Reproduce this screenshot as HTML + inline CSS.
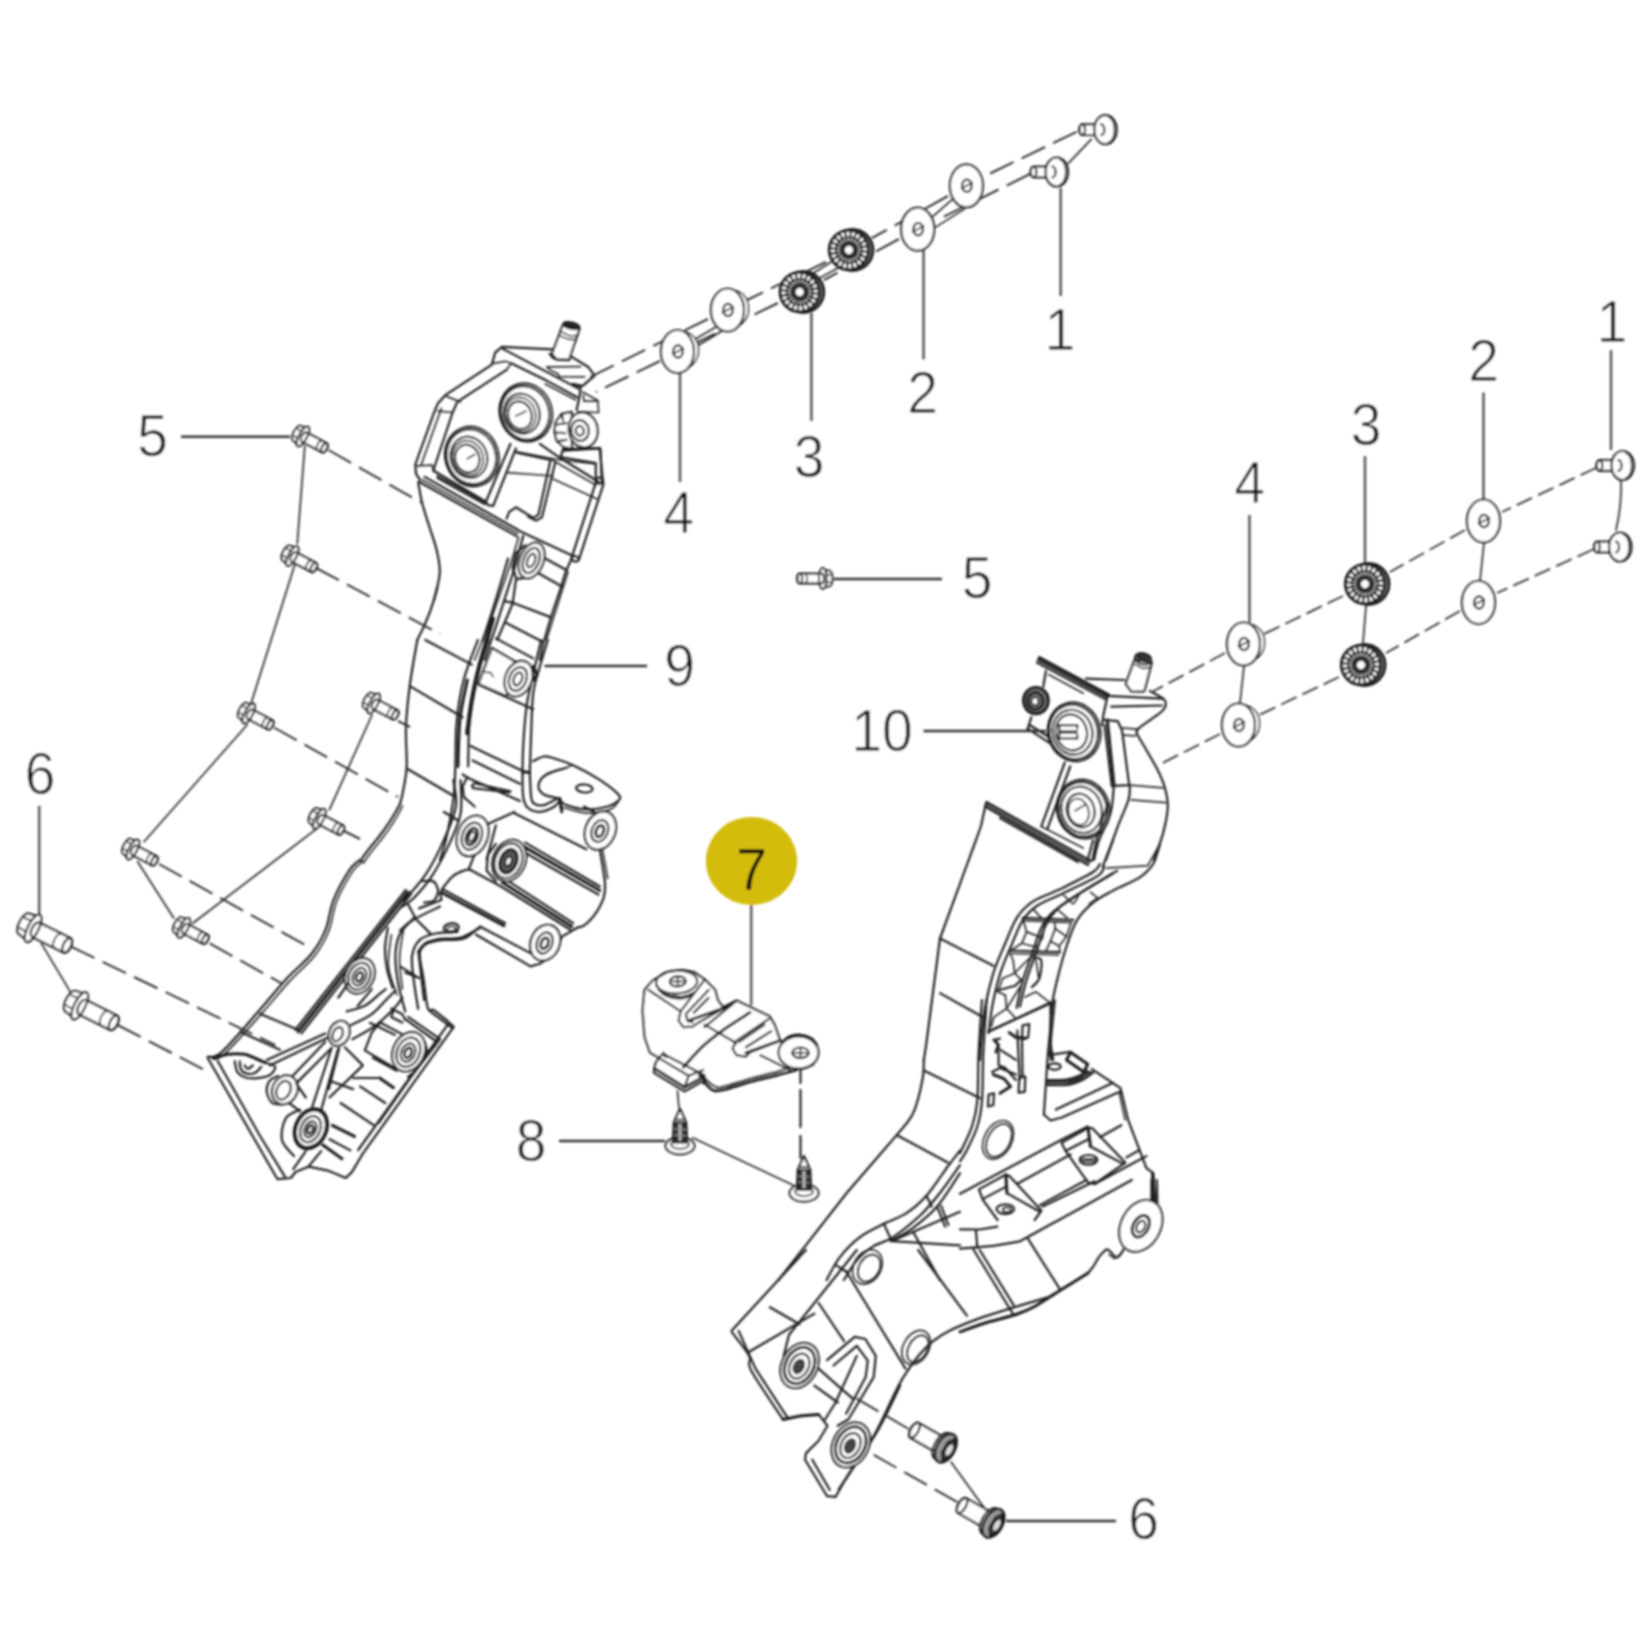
<!DOCTYPE html>
<html><head><meta charset="utf-8"><title>Parts diagram</title>
<style>
html,body{margin:0;padding:0;background:#fff;}
body{width:1652px;height:1652px;overflow:hidden;font-family:"Liberation Sans",sans-serif;}
svg{display:block;}
.l{fill:none;stroke:#202020;stroke-width:2.2;stroke-linecap:round;stroke-linejoin:round;}
.t{fill:none;stroke:#2c2c2c;stroke-width:1.7;stroke-linecap:round;stroke-linejoin:round;}
.h{fill:none;stroke:#1a1a1a;stroke-width:3;stroke-linecap:round;stroke-linejoin:round;}
.w{fill:#fff;stroke:#202020;stroke-width:2.2;stroke-linejoin:round;}
.ld{fill:none;stroke:#5a5a5a;stroke-width:2.6;}
.lh{fill:none;stroke:#333;stroke-width:2.4;}
.d{fill:none;stroke:#333;stroke-width:2;stroke-dasharray:26 9;}
.d2{fill:none;stroke:#3a3a3a;stroke-width:1.9;stroke-dasharray:17 6.5;}
text{font-family:"Liberation Sans",sans-serif;fill:#0c0c0c;stroke:#fff;stroke-width:0.9px;}
text.y{stroke:#d4bc08;stroke-width:0.3px;}
</style></head><body>
<svg width="1652" height="1652" viewBox="0 0 1652 1652">
<defs><filter id="b" x="-2%" y="-2%" width="104%" height="104%"><feGaussianBlur stdDeviation="0.9"/></filter></defs>
<rect width="1652" height="1652" fill="#fff"/>
<g filter="url(#b)">
<path class="w" d="M562.6 325.3 L552.0 353.9 L556.6 359.3 L569.3 359.9 L570.0 356.6 L579.6 328.6Z"/>
<ellipse class="l" cx="571.3" cy="325.6" rx="8.3" ry="3.2" transform="rotate(12.0 571.3 325.6)"/>
<g><ellipse fill="#222" stroke="#222" cx="571.3" cy="325.2" rx="7.0" ry="2.3" transform="rotate(12.0 571.3 325.2)"/></g>
<path class="t" d="M561.3 332.0 L570.0 336.0 L577.9 335.3"/>
<path class="t" d="M560.0 336.0 L568.6 339.3 L576.6 339.3"/>
<path class="l" d="M549.6 353.6 L552.6 357.6 L558.0 359.6 L569.3 360.1"/>
<path class="l" d="M552.5 349.4 L501.9 346.8 L495.2 352.6 L491.9 364.6 L445.3 395.2 L438.0 403.2 L434.6 411.2 L415.3 464.5 L416.0 473.8 L420.0 479.8"/>
<path class="l" d="M571.3 356.6 L588.6 367.3 L594.6 375.6 L582.6 385.9 L572.6 384.2"/>
<path class="t" d="M547.0 366.9 L580.6 366.6"/>
<path class="t" d="M547.0 366.9 L550.0 369.9 L558.0 373.9 L559.3 376.6 L584.6 376.9"/>
<path class="l" d="M502.5 348.6 L578.5 388.6"/>
<path class="l" d="M511.2 363.3 L546.5 380.6 L577.1 397.2"/>
<path class="t" d="M545.2 383.9 L575.8 399.9"/>
<path class="l" d="M572.6 383.9 L580.6 386.6 L579.6 396.6 L576.6 409.9"/>
<path class="t" d="M582.6 391.9 L597.9 400.6 L598.6 412.5 L577.9 411.9"/>
<path class="t" d="M583.3 395.2 L583.9 401.2 L596.6 401.2"/>
<path class="l" d="M506.5 369.9 L457.3 401.9 L452.6 412.5 L433.3 470.5"/>
<path class="t" d="M493.2 363.3 L505.2 361.3 L511.2 363.3 L506.5 369.9"/>
<path class="t" d="M445.3 395.9 L460.6 401.9"/>
<path class="t" d="M438.0 411.2 L452.6 412.5"/>
<path class="t" d="M416.6 465.8 L432.0 465.1 L434.0 471.8"/>
<path class="t" d="M441.3 408.5 L421.3 464.5"/>
<path class="l" d="M424.6 476.9 L518.6 530.3"/>
<path class="l" d="M419.9 482.2 L516.9 536.4"/>
<path class="t" d="M422.2 479.7 L517.8 533.4"/>
<path class="l" d="M437.3 476.1 L486.4 503.2"/>
<path class="t" d="M437.3 478.2 L484.7 504.5"/>
<path class="l" d="M418.2 482.2 C418.9 485.6 420.1 494.8 422.0 502.4 C423.9 510.0 427.3 520.0 429.7 527.8 C432.1 535.6 434.7 541.9 436.4 549.0 C438.1 556.0 439.7 563.8 439.8 570.2 C440.0 576.5 438.3 582.1 437.3 587.1 C436.3 592.1 434.5 597.9 433.9 600.0"/>
<ellipse class="w" cx="525.8" cy="412.5" rx="26.0" ry="29.3" transform="rotate(-18.0 525.8 412.5)"/>
<ellipse class="l" cx="525.2" cy="412.8" rx="23.7" ry="27.0" transform="rotate(-18.0 525.2 412.8)"/>
<ellipse class="l" cx="521.9" cy="413.6" rx="17.6" ry="20.2" transform="rotate(-18.0 521.9 413.6)"/>
<ellipse class="t" cx="520.5" cy="414.5" rx="14.9" ry="17.3" transform="rotate(-18.0 520.5 414.5)"/>
<ellipse class="l" cx="519.9" cy="415.2" rx="11.7" ry="14.0" transform="rotate(-18.0 519.9 415.2)"/>
<path class="t" d="M515.9 416.1 L525.8 411.2"/>
<ellipse class="w" cx="471.9" cy="456.5" rx="26.6" ry="30.0" transform="rotate(-18.0 471.9 456.5)"/>
<ellipse class="l" cx="471.4" cy="456.8" rx="24.4" ry="27.6" transform="rotate(-18.0 471.4 456.8)"/>
<ellipse class="l" cx="469.0" cy="457.3" rx="18.1" ry="20.8" transform="rotate(-18.0 469.0 457.3)"/>
<ellipse class="t" cx="467.9" cy="458.1" rx="15.2" ry="17.6" transform="rotate(-18.0 467.9 458.1)"/>
<ellipse class="l" cx="467.3" cy="458.6" rx="12.0" ry="14.1" transform="rotate(-18.0 467.3 458.6)"/>
<path class="t" d="M467.3 458.8 L474.8 454.5"/>
<path class="l" d="M510.5 443.8 L485.9 501.8 L487.9 505.1 L493.2 505.8"/>
<path class="l" d="M515.9 448.5 L493.2 505.8"/>
<path class="l" d="M433.3 470.5 L485.9 501.8"/>
<path class="w" d="M571.8 411.9 L561.8 413.9 L555.8 421.9 L554.5 431.2 L556.5 440.5 L563.8 447.2 L571.8 448.5Z"/>
<path class="l" d="M561.8 413.9 L563.1 420.5 M557.1 424.5 L566.5 423.2 M555.1 432.5 L565.1 433.2 M557.8 441.2 L566.5 439.8"/>
<ellipse class="w" cx="583.1" cy="429.9" rx="14.4" ry="17.6" transform="rotate(-10.0 583.1 429.9)"/>
<ellipse class="l" cx="580.0" cy="430.5" rx="8.8" ry="10.4" transform="rotate(-10.0 580.0 430.5)"/>
<ellipse class="l" cx="579.8" cy="430.8" rx="4.0" ry="4.8" transform="rotate(-10.0 579.8 430.8)"/>
<path class="l" d="M563.1 449.2 L599.8 448.2"/>
<path class="l" d="M563.1 449.2 L560.5 457.2 L595.8 463.1 L595.8 481.8"/>
<path class="l" d="M600.4 448.5 L601.8 481.8"/>
<path class="l" d="M539.8 443.8 L559.8 457.8 L598.4 481.8"/>
<path class="t" d="M551.8 459.8 L595.8 485.1"/>
<path class="t" d="M553.1 479.1 L597.1 499.1"/>
<path class="l" d="M516.6 452.7 L550.5 460.0 L538.5 514.6 L533.2 517.9 L515.9 507.3 L509.2 511.9 L506.6 518.6"/>
<path class="l" d="M555.2 462.6 L541.9 517.2 L535.9 520.6 L527.9 516.6"/>
<path class="t" d="M507.9 472.6 L553.2 476.0"/>
<path class="t" d="M514.6 451.3 L559.9 460.0 L595.8 464.0 L595.8 478.6"/>
<path class="l" d="M563.8 450.7 L599.8 448.3 L603.1 483.9"/>
<path class="l" d="M595.8 482.6 L571.8 557.2"/>
<path class="l" d="M603.5 484.2 L578.8 559.9"/>
<ellipse class="l" cx="599.4" cy="480.6" rx="4.0" ry="2.9" transform="rotate(15.0 599.4 480.6)"/>
<ellipse class="l" cx="575.2" cy="558.8" rx="3.7" ry="2.7" transform="rotate(15.0 575.2 558.8)"/>
<path class="l" d="M519.9 531.2 L573.2 556.1"/>
<ellipse class="w" cx="531.6" cy="560.5" rx="11.7" ry="18.6" transform="rotate(22.0 531.6 560.5)"/>
<ellipse class="l" cx="531.2" cy="560.5" rx="7.7" ry="13.1" transform="rotate(22.0 531.2 560.5)"/>
<ellipse class="l" cx="531.2" cy="560.5" rx="3.7" ry="6.9" transform="rotate(22.0 531.2 560.5)"/>
<path class="l" d="M525.2 545.2 L515.9 553.2 L512.6 567.8 L516.6 579.2 L525.2 577.8"/>
<path class="l" d="M545.2 558.5 L565.8 569.8"/>
<path class="l" d="M538.5 573.2 L561.9 586.5"/>
<path class="l" d="M503.9 601.1 L512.6 602.7 L551.2 617.4"/>
<path class="l" d="M505.3 622.4 L541.9 641.4"/>
<path class="l" d="M495.9 638.4 L533.2 658.4"/>
<path class="t" d="M518.6 537.2 L511.9 559.9 L493.3 613.1 L474.6 660.0"/>
<path class="l" d="M523.2 535.9 L514.6 567.8 L495.9 626.4 L484.6 660.0"/>
<path class="l" d="M515.9 579.8 L512.6 603.8 L497.3 639.8"/>
<path class="l" d="M571.8 557.9 L565.2 573.2 L559.9 590.5 L550.5 618.5 L542.5 646.4 L539.9 660.0"/>
<path class="t" d="M568.1 571.8 L546.5 639.8"/>
<path class="l" d="M437.3 587 Q432 612 417.3 640"/>
<path class="l" d="M417.3 640.0 C416.1 647.3 411.9 669.5 410.0 683.9 C408.1 698.4 406.5 712.8 406.0 726.6 C405.4 740.3 407.2 755.4 406.7 766.5 C406.1 777.6 403.8 786.9 402.7 793.1 C401.6 799.4 400.4 802.0 400.0 803.8"/>
<path class="l" d="M425.3 640.0 L471.9 664.6"/>
<path class="l" d="M410.7 686.6 L462.6 717.2"/>
<path class="l" d="M408.0 769.2 L453.3 795.8"/>
<path class="h" d="M467.3 680.0 C466.0 686.6 461.5 705.5 459.9 719.9 C458.4 734.3 458.3 758.7 457.9 766.5"/>
<path class="l" d="M488.6 640.0 C486.3 646.7 478.4 666.6 475.2 680.0 C472.1 693.3 470.7 705.5 469.5 719.9 C468.3 734.3 468.4 758.7 468.2 766.5"/>
<path class="l" d="M477.9 640.0 C475.5 646.7 467.2 666.2 463.7 680.0 C460.1 693.7 458.0 707.9 456.6 722.6 C455.2 737.2 455.8 755.0 455.3 767.8 C454.7 780.7 454.8 787.8 453.3 799.8 C451.7 811.8 448.2 829.7 445.9 839.8 C443.7 849.8 441.0 856.6 440.0 860.0"/>
<path class="l" d="M547.8 640.0 C546.5 644.4 542.3 657.8 539.8 666.6 C537.4 675.5 534.6 682.2 533.2 693.3 C531.7 704.4 531.7 720.1 531.2 733.2 C530.6 746.3 530.1 765.4 529.8 771.8"/>
<path class="l" d="M541.2 640.0 C539.6 646.7 534.3 668.9 531.8 680.0 C529.4 691.0 528.0 695.5 526.5 706.6 C525.1 717.7 523.8 735.4 523.2 746.5 C522.5 757.6 522.6 768.7 522.5 773.2"/>
<path class="h" d="M523.2 771.8 L529.8 772.5"/>
<path class="l" d="M522.5 773.2 C522.6 777.2 522.3 791.4 523.2 797.1 C524.1 802.9 525.1 805.4 527.8 807.8 C530.6 810.2 535.4 812.0 539.8 811.8 C544.3 811.6 551.2 808.5 554.5 806.5 C557.8 804.5 558.9 800.9 559.8 799.8"/>
<path class="l" d="M529.8 773.2 C530.1 777.2 530.4 792.0 531.2 797.1 C532.0 802.2 532.4 802.5 534.5 803.8 C536.6 805.1 540.1 806.0 543.8 805.1 C547.6 804.2 554.9 799.6 557.1 798.5"/>
<path class="w" d="M515.9 662.0 L491.9 648.0 L478.6 683.9 L506.5 695.9Z"/>
<ellipse class="w" cx="518.5" cy="678.6" rx="13.3" ry="18.4" transform="rotate(22.0 518.5 678.6)"/>
<ellipse class="l" cx="517.9" cy="678.9" rx="8.5" ry="12.3" transform="rotate(22.0 517.9 678.9)"/>
<ellipse class="l" cx="517.9" cy="678.9" rx="4.0" ry="6.7" transform="rotate(22.0 517.9 678.9)"/>
<path class="t" d="M482.6 672.0 L490.6 672.6 L493.2 676.6"/>
<path class="l" d="M478.6 684.6 L533.2 709.2"/>
<path class="h" d="M533.2 666.6 L537.2 674.6 L533.2 680.0"/>
<path class="l" d="M470.6 745.9 L523.2 771.2"/>
<path class="l" d="M472.6 760.5 L519.9 783.8"/>
<path class="l" d="M510.5 791.2 L474.6 783.2 L471.9 785.8 L473.2 788.1 L509.2 792.5Z"/>
<path class="l" d="M462.6 774.5 L469.2 778.5 L519.9 801.1"/>
<path class="l" d="M466.6 778.5 L462.6 786.5 L463.9 797.1 L474.6 806.5"/>
<path class="l" d="M533.2 761.2 C534.9 760.4 540.3 757.0 543.8 756.5 C547.4 756.1 549.6 757.1 554.5 758.5 C559.4 760.0 565.6 761.6 573.1 765.2 C580.7 768.7 592.2 774.9 599.8 779.8 C607.3 784.7 615.3 791.0 618.4 794.5 C621.5 797.9 620.2 798.5 618.4 800.5 C616.6 802.5 613.1 805.0 607.7 806.5 C602.4 808.0 593.3 809.6 586.4 809.4 C579.6 809.2 570.9 806.7 566.5 805.1 C562.0 803.5 560.9 800.7 559.8 799.8"/>
<path class="t" d="M559.8 806.5 C564.2 807.6 578.0 812.6 586.4 813.1 C594.9 813.6 605.0 811.5 610.4 809.4 C615.8 807.3 617.6 802.0 619.1 800.5"/>
<path class="l" d="M566.5 767.8 C563.1 769.0 551.2 771.6 546.5 774.5 C541.8 777.4 538.9 781.8 538.5 785.2 C538.1 788.5 540.3 792.3 543.8 794.5 C547.4 796.7 557.1 797.8 559.8 798.5"/>
<path class="t" d="M566.5 767.8 L571.8 765.2"/>
<ellipse class="l" cx="584.4" cy="788.5" rx="8.3" ry="4.0" transform="rotate(5.0 584.4 788.5)"/>
<path class="h" d="M559.8 798.5 L561.8 811.8"/>
<g><path fill="none" stroke="#1a1a1a" stroke-width="4.2" stroke-linecap="round" d="M492.9 618.6 C491.9 622.3 488.8 633.2 486.5 641.2 C484.3 649.2 481.7 656.7 479.2 666.5 C476.8 676.3 473.9 688.7 471.9 699.8 C469.9 710.9 468.0 727.6 467.2 733.1"/></g>
<path class="l" d="M508.1 558.6 C505.8 566.2 498.8 590.2 494.5 603.9 C490.3 617.7 484.5 635.0 482.5 641.2"/>
<path class="l" d="M457.3 820.0 L443.9 812.0"/>
<ellipse class="w" cx="472.6" cy="835.9" rx="14.9" ry="21.0" transform="rotate(22.0 472.6 835.9)"/>
<ellipse class="l" cx="471.9" cy="836.2" rx="9.6" ry="14.0" transform="rotate(22.0 471.9 836.2)"/>
<ellipse class="h" cx="471.9" cy="836.5" rx="5.3" ry="8.8" transform="rotate(22.0 471.9 836.5)"/>
<ellipse class="l" cx="471.9" cy="836.5" rx="2.7" ry="5.1" transform="rotate(22.0 471.9 836.5)"/>
<path class="l" d="M487.9 823.9 L514.5 812.0"/>
<path class="l" d="M474.6 854.6 L469.2 867.9"/>
<path class="l" d="M495.9 825.3 L486.6 859.9"/>
<path class="l" d="M514.5 813.3 L586.4 849.2"/>
<path class="l" d="M594.4 812.0 L583.8 806.6"/>
<ellipse class="w" cx="600.4" cy="830.6" rx="14.9" ry="19.7" transform="rotate(22.0 600.4 830.6)"/>
<ellipse class="l" cx="599.8" cy="830.9" rx="8.0" ry="11.2" transform="rotate(22.0 599.8 830.9)"/>
<ellipse class="h" cx="599.8" cy="831.1" rx="3.7" ry="5.9" transform="rotate(22.0 599.8 831.1)"/>
<path class="h" d="M523.8 846.6 L599.8 890.5"/>
<path class="l" d="M525.2 842.6 L599.8 886.5"/>
<path class="l" d="M522.5 851.2 L598.4 894.5"/>
<path class="h" d="M502.5 882.5 L571.8 926.5"/>
<path class="l" d="M505.2 879.2 L573.1 923.2"/>
<path class="l" d="M469.2 869.2 L501.2 886.5 L570.5 929.8"/>
<path class="l" d="M599.8 849.2 C600.6 855.5 605.1 877.0 605.1 886.5 C605.1 896.1 602.9 900.3 599.8 906.5 C596.7 912.7 590.2 920.3 586.4 923.8 C582.7 927.4 578.7 927.2 577.1 927.8"/>
<path class="t" d="M602.4 849.2 L607.7 878.5"/>
<ellipse class="w" cx="509.2" cy="860.6" rx="16.2" ry="21.3" transform="rotate(22.0 509.2 860.6)"/>
<ellipse class="l" cx="508.5" cy="860.8" rx="13.3" ry="18.0" transform="rotate(22.0 508.5 860.8)"/>
<g><ellipse fill="#555" stroke="#1a1a1a" stroke-width="3" cx="508.5" cy="861.2" rx="8.3" ry="12.3" transform="rotate(22.0 508.5 861.2)"/></g>
<ellipse class="w" cx="508.5" cy="861.2" rx="2.9" ry="4.8" transform="rotate(22.0 508.5 861.2)"/>
<path class="l" d="M495.9 843.9 L487.9 854.6 L486.6 870.6 L495.9 881.2"/>
<path class="l" d="M443.9 886.5 C445.5 884.8 449.9 878.5 453.3 875.9 C456.6 873.2 461.1 871.6 463.9 870.6 C466.7 869.5 468.9 869.7 469.9 869.5"/>
<path class="l" d="M443.9 886.5 L440.0 893.2 L441.3 898.5"/>
<path class="h" d="M441.3 892.5 L503.9 925.8"/>
<path class="l" d="M442.6 889.2 L505.2 923.2"/>
<path class="l" d="M479.9 926.5 L530.5 953.1"/>
<path class="l" d="M475.9 934.5 L530.5 966.4 L539.8 963.8 L557.1 951.1 L561.4 937.1"/>
<ellipse class="w" cx="545.2" cy="942.7" rx="14.4" ry="18.4" transform="rotate(22.0 545.2 942.7)"/>
<ellipse class="l" cx="544.6" cy="943.0" rx="7.7" ry="10.9" transform="rotate(22.0 544.6 943.0)"/>
<ellipse class="h" cx="544.6" cy="943.3" rx="3.5" ry="5.6" transform="rotate(22.0 544.6 943.3)"/>
<path class="l" d="M561.1 937.1 L577.1 927.8"/>
<path class="l" d="M453.3 780.0 C453.7 784.4 457.5 796.6 455.9 806.6 C454.4 816.6 448.8 828.8 443.9 839.9 C439.1 851.0 432.6 863.9 426.6 873.2 C420.6 882.5 412.4 891.0 408.0 895.9 C403.6 900.7 401.3 901.4 400.0 902.5"/>
<path class="l" d="M460.6 780.0 C460.6 785.5 462.4 802.9 460.6 813.3 C458.8 823.7 454.7 832.2 449.9 842.6 C445.2 853.0 438.1 866.6 432.0 875.9 C425.9 885.2 418.6 893.2 413.3 898.5 C408.0 903.8 402.2 906.3 400.0 907.8"/>
<path class="l" d="M422.6 881.2 C424.4 881.2 430.7 879.7 433.3 881.2 C435.8 882.8 437.8 887.3 438.0 890.5 C438.1 893.8 436.3 898.5 434.0 900.5 C431.6 902.5 425.6 902.2 424.0 902.5"/>
<ellipse class="l" cx="451.3" cy="927.8" rx="7.5" ry="4.5" transform="rotate(-8.0 451.3 927.8)"/>
<ellipse class="t" cx="451.3" cy="928.9" rx="4.5" ry="2.4" transform="rotate(-8.0 451.3 928.9)"/>
<path class="l" d="M400.0 930.5 C402.2 928.7 406.7 923.8 413.3 919.8 C420.0 915.8 435.5 908.7 440.0 906.5"/>
<path class="l" d="M443.9 939.8 C447.3 939.6 458.2 940.5 463.9 938.5 C469.7 936.5 476.1 929.6 478.6 927.8"/>
<path class="h" d="M418.6 951.8 C420.0 950.3 422.2 945.2 426.6 943.1 C431.1 941.0 442.2 939.8 445.3 939.1"/>
<path class="l" d="M418.6 953.1 L424.0 1000.0"/>
<path class="l" d="M400.0 966.4 L417.3 977.1"/>
<path class="l" d="M400 804 Q392 820 378 838 Q366 852 360.5 861"/>
<path class="t" d="M402.5 806 Q395 822 381 840 Q369 854 363.5 863"/>
<path class="l" d="M359.8 860.0 C358.1 861.6 354.0 863.2 349.6 869.8 C345.3 876.4 337.6 889.8 333.6 899.8 C329.6 909.7 329.3 920.7 325.6 929.7 C322.0 938.7 318.3 945.4 311.7 953.7 C305.0 962.0 294.4 970.3 285.7 979.7 C277.0 989.0 270.3 998.0 259.7 1010.0 C249.1 1022.0 230.6 1044.0 222.0 1051.8 C213.4 1059.6 210.3 1055.9 208.0 1056.8"/>
<path class="t" d="M362.8 861.6 C361.1 863.2 357.0 864.8 352.6 871.4 C348.3 878.0 340.6 891.4 336.6 901.3 C332.6 911.3 332.3 922.3 328.6 931.3 C325.0 940.4 321.3 947.2 314.7 955.7 C308.0 964.1 297.3 972.6 288.7 982.1 C280.0 991.5 273.4 1000.4 262.7 1012.4 C252.0 1024.4 232.8 1046.5 224.4 1054.2 C215.9 1061.8 214.0 1057.5 212.0 1058.2"/>
<path class="l" d="M207.6 1057.8 L277.5 1179.2 L290.9 1178.0 L295.5 1172.0 L308.9 1166.6 L327.8 1170.6 L345.8 1178.0 L352.2 1171.6 L362.8 1153.6 L453.7 1026.8 L446.1 1019.8"/>
<path class="l" d="M217.6 1060.8 L259.9 1135.7 L284.9 1176.6"/>
<path class="l" d="M358.2 1150.0 L448.1 1024.2"/>
<path class="l" d="M446.1 1019.8 C444.0 1018.2 436.8 1012.2 433.7 1010.2 C430.7 1008.2 429.4 1012.9 427.7 1007.8 C426.1 1002.8 425.1 988.8 423.7 979.9 C422.4 970.9 419.4 959.9 419.7 953.9 C420.1 947.9 422.4 946.4 425.7 943.9 C429.1 941.4 434.0 939.9 439.7 938.9 C445.4 937.9 453.0 939.7 459.7 937.9 C466.3 936.1 476.3 929.6 479.7 927.9"/>
<path class="l" d="M418.1 1008.8 C417.4 1004.0 414.7 988.7 413.7 979.9 C412.7 971.0 411.1 962.5 412.1 955.9 C413.1 949.2 415.8 943.6 419.7 939.9 C423.7 936.2 429.4 934.8 435.7 933.5 C442.0 932.2 454.0 932.2 457.7 931.9"/>
<path class="h" d="M408.1 892.0 L298.3 1031.8"/>
<path class="l" d="M411.3 893.6 L301.5 1033.4"/>
<path class="l" d="M405.8 890.0 L295.5 1029.8"/>
<path class="l" d="M259.9 1013.8 L297.9 1029.8"/>
<path class="l" d="M240.0 1031.8 L279.9 1049.8"/>
<ellipse class="w" cx="359.8" cy="975.9" rx="14.0" ry="18.4" transform="rotate(25.0 359.8 975.9)"/>
<ellipse class="l" cx="359.4" cy="976.3" rx="10.4" ry="14.0" transform="rotate(25.0 359.4 976.3)"/>
<ellipse class="l" cx="359.4" cy="976.7" rx="6.4" ry="9.2" transform="rotate(25.0 359.4 976.7)"/>
<ellipse class="h" cx="359.4" cy="976.9" rx="3.0" ry="4.8" transform="rotate(25.0 359.4 976.9)"/>
<path class="l" d="M394.8 1034.8 L369.8 1022.8"/>
<path class="l" d="M396.8 1070.7 L372.8 1057.8"/>
<ellipse class="w" cx="408.7" cy="1051.8" rx="15.6" ry="20.4" transform="rotate(25.0 408.7 1051.8)"/>
<ellipse class="l" cx="408.3" cy="1052.2" rx="11.2" ry="15.2" transform="rotate(25.0 408.3 1052.2)"/>
<ellipse class="l" cx="408.1" cy="1052.6" rx="6.8" ry="9.6" transform="rotate(25.0 408.1 1052.6)"/>
<ellipse class="h" cx="408.1" cy="1052.8" rx="3.2" ry="5.2" transform="rotate(25.0 408.1 1052.8)"/>
<path class="l" d="M299.9 1109.7 C297.5 1111.1 288.9 1113.1 285.9 1118.1 C282.9 1123.1 280.6 1133.3 281.9 1139.7 C283.2 1146.0 291.9 1153.3 293.9 1156.0"/>
<ellipse class="w" cx="310.9" cy="1128.7" rx="16.0" ry="21.2" transform="rotate(25.0 310.9 1128.7)"/>
<g><ellipse class="h" cx="310.9" cy="1128.7" rx="14.4" ry="19.4" transform="rotate(25.0 310.9 1128.7)"/></g>
<ellipse class="l" cx="310.5" cy="1129.1" rx="9.6" ry="13.6" transform="rotate(25.0 310.5 1129.1)"/>
<ellipse class="l" cx="310.3" cy="1129.3" rx="5.6" ry="8.4" transform="rotate(25.0 310.3 1129.3)"/>
<ellipse class="h" cx="310.3" cy="1129.5" rx="2.6" ry="4.4" transform="rotate(25.0 310.3 1129.5)"/>
<path class="h" d="M213.9 1058.5 C216.2 1057.8 222.7 1055.0 227.8 1054.3 C232.9 1053.6 239.9 1053.6 244.6 1054.3 C249.2 1055.0 252.2 1057.1 255.7 1058.5 C259.2 1059.9 263.8 1062.0 265.4 1062.7"/>
<path class="l" d="M266.8 1059.9 L325.3 1033.4"/>
<path class="l" d="M269.6 1065.4 L328.1 1037.6"/>
<path class="l" d="M265.4 1062.7 C267.1 1063.3 274.5 1064.7 275.2 1066.8 C275.9 1068.9 272.4 1073.3 269.6 1075.2 C266.8 1077.0 262.2 1077.5 258.5 1078.0 C254.8 1078.4 250.8 1078.9 247.3 1078.0 C243.9 1077.0 239.7 1075.2 237.6 1072.4 C235.5 1069.6 235.3 1063.1 234.8 1061.3"/>
<path class="l" d="M261.3 1066.8 C260.3 1067.8 258.0 1071.2 255.7 1072.4 C253.4 1073.6 249.8 1074.3 247.3 1073.8 C244.9 1073.3 242.3 1071.7 241.1 1069.6 C239.8 1067.5 239.9 1062.7 239.7 1061.3"/>
<path class="l" d="M252.9 1065.4 C252.1 1066.0 249.4 1068.9 248.0 1068.9 C246.6 1068.9 245.1 1066.0 244.6 1065.4"/>
<ellipse class="w" cx="339.2" cy="1033.4" rx="10.0" ry="12.8" transform="rotate(25.0 339.2 1033.4)"/>
<ellipse class="l" cx="337.6" cy="1034.2" rx="4.7" ry="7.5" transform="rotate(25.0 337.6 1034.2)"/>
<path class="l" d="M278.0 1075.9 C276.6 1076.7 271.5 1078.1 269.6 1080.8 C267.8 1083.4 266.4 1088.2 266.8 1091.9 C267.3 1095.6 269.8 1100.9 272.4 1103.0 C274.9 1105.1 280.5 1104.2 282.1 1104.4"/>
<ellipse class="w" cx="284.9" cy="1089.8" rx="12.3" ry="14.8" transform="rotate(25.0 284.9 1089.8)"/>
<ellipse class="l" cx="283.5" cy="1090.2" rx="6.7" ry="9.7" transform="rotate(25.0 283.5 1090.2)"/>
<path class="l" d="M325.3 1041.8 L292.6 1075.9"/>
<path class="l" d="M331.6 1048.0 L297.5 1082.1"/>
<path class="l" d="M331.6 1048.0 L312.1 1107.2"/>
<path class="l" d="M338.1 1049.0 L321.4 1109.3"/>
<path class="l" d="M339.2 1048.0 L328.8 1089.1"/>
<path class="l" d="M344.8 1047.3 L362.9 1065.4 L329.5 1097.5"/>
<path class="l" d="M329.5 1080.8 L353.1 1089.1"/>
<path class="l" d="M296.1 1083.5 L305.8 1097.5"/>
<path class="l" d="M289.1 1103.0 L300.2 1111.4"/>
<path class="l" d="M293.3 1169.2 L305.8 1151.1"/>
<path class="l" d="M308.6 1166.4 L321.1 1151.1"/>
<path class="h" d="M332.3 1125.3 L354.5 1136.4"/>
<path class="h" d="M322.5 1144.8 L342.0 1158.7"/>
<path class="l" d="M329.5 1139.2 L350.4 1150.4"/>
<path class="l" d="M340.6 1103.0 L374.0 1125.3"/>
<path class="l" d="M360.1 1086.3 L385.2 1103.0"/>
<path class="h" d="M379.6 1078.0 L393.5 1087.7"/>
<path class="l" d="M353.1 1078.0 L379.6 1078.0"/>
<path class="l" d="M413.5 918.1 C411.2 920.9 402.6 928.5 399.6 934.8 C396.6 941.1 395.7 947.6 395.4 955.7 C395.2 963.8 396.6 974.3 398.2 983.5 C399.8 992.8 404.0 1006.7 405.2 1011.4"/>
<path class="t" d="M403.8 927.8 C403.1 932.9 399.8 948.3 399.6 958.5 C399.4 968.7 401.9 984.0 402.4 989.1"/>
<path class="t" d="M391.3 934.8 C390.8 940.1 387.5 956.9 388.5 966.8 C389.4 976.8 395.4 990.0 396.8 994.7"/>
<path class="l" d="M405.2 972.4 L419.1 978.0"/>
<path class="l" d="M387.8 927.8 C387.3 931.3 385.1 941.8 385.0 948.7 C384.9 955.7 385.8 963.1 387.1 969.6 C388.4 976.1 391.7 984.7 392.7 987.7"/>
<path class="l" d="M419.1 908.4 L441.4 900.0"/>
<path class="l" d="M408.0 904.2 L416.3 919.5 L430.2 933.4"/>
<path class="l" d="M346.7 1011.4 C349.7 1010.5 359.5 1008.6 364.8 1005.8 C370.1 1003.0 375.2 997.5 378.7 994.7 C382.2 991.9 384.5 990.0 385.7 989.1"/>
<path class="l" d="M350.9 1025.3 C354.4 1023.4 365.5 1018.8 371.8 1014.2 C378.0 1009.5 384.5 1001.4 388.5 997.5 C392.4 993.5 394.3 991.7 395.4 990.5"/>
<path class="l" d="M352.3 1039.2 C356.2 1036.9 369.0 1030.4 375.9 1025.3 C382.9 1020.2 389.6 1013.2 394.0 1008.6 C398.5 1004.0 401.0 999.3 402.4 997.5"/>
<path class="l" d="M348.1 983.5 L338.4 997.5"/>
<path class="l" d="M371.8 989.1 L357.8 1005.8"/>
<path class="l" d="M430.2 1011.4 L452.5 1028.1"/>
<path class="l" d="M408.0 1016.9 L440.0 1039.2"/>
<path class="l" d="M405.9 1019.7 L437.2 1042.0"/>
<path class="l" d="M391.3 1008.6 L402.4 1014.2 L405.2 1019.7"/>
<path class="l" d="M394.0 1008.6 L391.3 1016.9 L402.4 1022.5"/>
<path class="l" d="M402.4 1034.4 L380.1 1022.5 L371.8 1032.3 L364.8 1050.4 L395.4 1068.5"/>
<path class="l" d="M424.7 1042.0 L427.5 1053.1 L435.8 1044.8"/>
<path class="l" d="M413.5 1072.6 L408.0 1076.8"/>
<path class="l" d="M440.0 1039.2 L412.1 1075.4 L378.7 1122.8"/>
<path class="w" d="M1134.5 660.0 L1125.8 683.9 L1131.2 691.3 L1143.1 691.7 L1144.5 690.6 L1151.8 662.6Z"/>
<ellipse class="l" cx="1143.1" cy="658.9" rx="8.3" ry="5.6" transform="rotate(15.0 1143.1 658.9)"/>
<g><ellipse fill="#333" stroke="#222" cx="1143.1" cy="658.0" rx="6.4" ry="3.7" transform="rotate(15.0 1143.1 658.0)"/></g>
<path class="t" d="M1135.2 664.6 L1143.1 668.6 L1150.5 667.3"/>
<path class="h" d="M1039.3 657.6 L1108.5 694.9"/>
<path class="l" d="M1036.9 662.6 L1104.8 698.9"/>
<path class="l" d="M1037.9 660.0 L1106.7 697.0"/>
<path class="t" d="M1048.6 674.6 L1083.2 693.3"/>
<path class="l" d="M1045.9 670.9 L1043.3 686.6"/>
<g><ellipse fill="#777" stroke="#1a1a1a" stroke-width="3.2" cx="1035.9" cy="700.6" rx="12.3" ry="13.1"/></g>
<ellipse class="h" cx="1035.3" cy="701.0" rx="7.7" ry="8.5"/>
<g><ellipse fill="#fff" stroke="#222" stroke-width="2" cx="1035.0" cy="701.3" rx="3.5" ry="4.0"/></g>
<path class="l" d="M1031.3 717.2 L1027.6 729.2"/>
<path class="l" d="M1027.6 728.6 L1049.9 743.2"/>
<path class="l" d="M1030.0 725.2 L1051.3 738.5"/>
<path class="l" d="M1085.9 678.6 L1124.5 680.0"/>
<path class="l" d="M1107.2 695.9 L1161.8 698.6"/>
<path class="l" d="M1149.8 690.9 C1152.2 692.4 1162.0 697.1 1164.5 699.9 C1166.9 702.8 1165.8 705.5 1164.7 707.9 C1163.6 710.4 1162.1 711.2 1157.8 714.6 C1153.5 717.9 1142.7 724.8 1139.2 727.9 C1135.6 731.0 1136.9 732.3 1136.5 733.2"/>
<path class="l" d="M1111.2 706.6 L1161.8 705.5"/>
<path class="t" d="M1121.8 727.9 L1136.5 729.2"/>
<path class="t" d="M1123.2 735.2 L1135.2 735.9"/>
<path class="l" d="M1136.5 733.2 C1139.8 739.0 1151.8 759.0 1156.5 767.8 C1161.1 776.7 1162.6 780.1 1164.5 786.5 C1166.3 792.9 1168.0 798.7 1167.8 806.5 C1167.6 814.2 1165.5 824.2 1163.1 833.1 C1160.8 842.0 1155.4 855.5 1153.8 860.0"/>
<path class="l" d="M1107.5 695.9 L1103.5 714.6 L1102.1 725.2"/>
<path class="h" d="M1107.2 719.9 L1114.1 785.8"/>
<path class="l" d="M1103.2 719.9 L1117.8 721.2 L1122.1 730.6 L1129.2 785.2 L1113.8 785.8"/>
<path class="l" d="M1104.5 725.2 L1111.9 786.5"/>
<path class="l" d="M1113.8 786.5 C1113.3 790.9 1113.0 804.2 1110.5 813.1 C1108.1 822.0 1102.0 831.9 1099.2 839.8 C1096.4 847.6 1094.8 856.6 1093.9 860.0"/>
<path class="l" d="M1129.8 786.5 C1129.6 788.7 1130.5 793.1 1128.5 799.8 C1126.5 806.5 1121.6 816.4 1117.8 826.4 C1114.1 836.5 1107.9 854.4 1105.9 860.0"/>
<path class="t" d="M1129.8 785.2 L1163.1 787.8"/>
<path class="t" d="M1131.2 799.8 L1165.8 802.7"/>
<ellipse class="w" cx="1074.2" cy="731.9" rx="26.1" ry="29.6" transform="rotate(-15.0 1074.2 731.9)"/>
<ellipse class="l" cx="1073.6" cy="731.9" rx="24.0" ry="27.3" transform="rotate(-15.0 1073.6 731.9)"/>
<ellipse class="l" cx="1072.6" cy="732.2" rx="19.7" ry="22.6" transform="rotate(-15.0 1072.6 732.2)"/>
<ellipse class="l" cx="1071.5" cy="732.4" rx="15.4" ry="18.1" transform="rotate(-15.0 1071.5 732.4)"/>
<path class="l" d="M1059.2 725.2 L1077.2 725.2"/>
<path class="l" d="M1059.2 738.5 L1077.2 738.5"/>
<path class="l" d="M1059.2 725.2 L1059.2 738.5"/>
<path class="h" d="M1059.9 731.9 L1076.6 731.9"/>
<path class="l" d="M1077.2 725.2 L1077.2 728.6"/>
<path class="l" d="M1077.2 735.2 L1077.2 738.5"/>
<ellipse class="w" cx="1083.2" cy="809.1" rx="26.1" ry="29.6" transform="rotate(-15.0 1083.2 809.1)"/>
<ellipse class="l" cx="1082.7" cy="809.3" rx="24.0" ry="27.3" transform="rotate(-15.0 1082.7 809.3)"/>
<ellipse class="l" cx="1081.6" cy="809.8" rx="20.0" ry="23.4" transform="rotate(-15.0 1081.6 809.8)"/>
<ellipse class="l" cx="1080.6" cy="810.5" rx="13.8" ry="17.0" transform="rotate(-15.0 1080.6 810.5)"/>
<ellipse class="t" cx="1078.6" cy="811.8" rx="10.1" ry="13.3" transform="rotate(-15.0 1078.6 811.8)"/>
<path class="t" d="M1075.2 810.7 L1086.2 804.1"/>
<path class="l" d="M1064.8 762.5 L1041.3 826.4"/>
<path class="l" d="M1070.2 766.5 L1047.3 829.1"/>
<path class="l" d="M986.5 802 L1091 861"/>
<path class="l" d="M985 806.5 L1088 865"/>
<path class="t" d="M985.7 804.3 L1089.5 863"/>
<path class="l" d="M1000 818 L1078 862"/>
<path class="t" d="M1041.3 826.4 L1083.2 848.0"/>
<path class="l" d="M1107.2 803.8 L1096.5 839.8 L1092.5 860.0"/>
<path class="l" d="M986 803 L981 826 L976 840"/>
<path class="l" d="M940 938.5 L926 1046 L923.8 1060"/>
<path class="l" d="M976.0 840.0 L940.0 938.5"/>
<path class="l" d="M940.0 938.5 L993.3 965.8"/>
<path class="l" d="M940.0 993.1 L985.3 1018.5"/>
<path class="l" d="M1099.8 864.0 C1098.7 865.3 1099.8 867.7 1093.1 872.0 C1086.5 876.2 1069.8 884.4 1059.9 889.3 C1049.9 894.2 1040.3 896.6 1033.2 901.3 C1026.1 905.9 1022.1 909.7 1017.2 917.2 C1012.4 924.8 1007.9 937.2 1003.9 946.5 C999.9 955.9 996.4 963.2 993.3 973.2 C990.2 983.2 987.3 995.4 985.3 1006.5 C983.3 1017.6 982.2 1030.8 981.3 1039.8 C980.4 1048.7 980.2 1056.6 980.0 1060.0"/>
<path class="l" d="M1104.1 866.6 C1103.0 868.2 1104.3 871.7 1097.4 876.2 C1090.5 880.7 1072.8 888.7 1062.8 893.5 C1052.8 898.4 1044.1 901.1 1037.5 905.5 C1030.8 910.0 1027.3 913.3 1022.8 920.2 C1018.4 927.1 1014.6 937.9 1010.8 946.8 C1007.1 955.7 1003.3 963.5 1000.2 973.4 C997.1 983.4 994.1 996.8 992.2 1006.7 C990.3 1016.7 989.2 1028.7 988.6 1033.1"/>
<path class="l" d="M1160.0 844.0 C1158.8 847.3 1156.4 858.4 1153.1 864.0 C1149.7 869.5 1146.4 872.8 1139.8 877.3 C1133.1 881.7 1120.9 886.4 1113.1 890.6 C1105.4 894.8 1099.1 897.7 1093.1 902.6 C1087.2 907.5 1081.6 912.6 1077.2 919.9 C1072.7 927.2 1069.8 936.5 1066.5 946.5 C1063.2 956.5 1059.6 969.8 1057.2 979.8 C1054.7 989.8 1053.0 996.5 1051.9 1006.5 C1050.8 1016.5 1050.3 1030.8 1050.5 1039.8 C1050.8 1048.7 1052.8 1056.6 1053.2 1060.0"/>
<path class="l" d="M1117.1 870.9 C1110.9 874.6 1089.8 886.9 1079.8 893.3 C1069.8 899.7 1063.0 903.7 1057.2 909.2 C1051.4 914.8 1048.8 919.2 1045.2 926.6 C1041.7 933.9 1039.0 944.3 1035.9 953.2 C1032.8 962.1 1029.2 971.0 1026.6 979.8 C1023.9 988.7 1021.0 1002.0 1019.9 1006.5"/>
<path class="l" d="M1113.1 873.3 C1106.9 877.1 1085.8 889.5 1075.8 895.9 C1065.8 902.4 1059.0 906.6 1053.2 911.9 C1047.4 917.2 1044.8 920.8 1041.2 927.9 C1037.7 935.0 1035.0 945.6 1031.9 954.5 C1028.8 963.4 1025.1 972.3 1022.6 981.2 C1020.0 990.0 1017.6 1003.4 1016.6 1007.8"/>
<path class="l" d="M1022.6 917.9 L1073.2 919.9"/>
<path class="t" d="M1023.9 920.6 L1071.8 922.6"/>
<path class="l" d="M1009.2 950.5 L1059.9 952.1"/>
<path class="t" d="M1010.3 953.5 L1058.5 954.8"/>
<path class="l" d="M997.3 990.5 L1015.2 985.8 L1021.2 979.8"/>
<path class="l" d="M988.6 1031.8 L1050.5 1002.5 L1050.8 1060.0"/>
<path class="t" d="M1026.6 931.9 L1042.5 937.9 L1036.5 947.2 L1021.9 943.2Z"/>
<path class="t" d="M1023.6 921.2 L1026.6 931.9 M1045.2 921.2 L1042.5 937.9 M1037.9 950.3 L1036.5 947.2 M1011.2 950.3 L1021.9 943.2"/>
<path class="t" d="M1055.2 928.6 L1066.5 936.5 L1059.2 945.9 L1050.5 941.2Z"/>
<path class="t" d="M1054.8 921.9 L1055.2 928.6 M1071.2 922.6 L1066.5 936.5 M1059.9 951.6 L1059.2 945.9 M1045.9 951.2 L1050.5 941.2"/>
<path class="t" d="M1033.2 909.2 L1041.2 917.9 M1063.8 895.3 L1073.2 903.9 M1090.5 892.2 L1098.5 898.6 M1057.9 909.9 L1067.2 917.9 M1079.8 893.3 L1074.5 902.6 M1096.5 898.6 L1089.2 903.9"/>
<path class="t" d="M1013.2 960.5 L1014.6 973.2 L1002.6 978.5"/>
<path class="t" d="M1010.3 953.5 L1013.2 960.5 M1033.2 954.5 L1014.6 973.2 M998.6 989.8 L1002.6 978.5 M1014.6 973.2 L1021.2 979.8"/>
<path class="l" d="M1033.2 957.2 C1034.6 957.7 1040.2 957.0 1041.2 960.5 C1042.2 964.1 1040.8 974.1 1039.2 978.5 C1037.7 982.9 1033.1 985.7 1031.9 987.2"/>
<path class="t" d="M1035.9 959.9 L1038.5 977.2"/>
<path class="t" d="M1005.3 995.1 L1006.6 1008.5 L993.9 1017.1"/>
<path class="t" d="M997.5 991.8 L1005.3 995.1 M1019.9 987.2 L1006.6 1008.5 M991.3 1026.4 L993.9 1017.1 M1006.6 1008.5 L1014.6 1017.1"/>
<path class="t" d="M1025.2 997.1 L1035.9 991.8 L1049.9 1002.7"/>
<path class="l" d="M1093.1 840.0 L1087.8 860.0"/>
<path class="l" d="M1113.1 840.0 L1102.7 866.6"/>
<path class="t" d="M1106.5 868.2 L1147.7 865.6 L1160.0 844.0"/>
<path class="l" d="M986.6 1000.0 C986.1 1008.9 984.1 1036.4 983.3 1053.3 C982.5 1070.1 983.0 1089.0 982.0 1101.2 C981.0 1113.4 979.9 1118.3 977.3 1126.5 C974.8 1134.7 969.5 1144.7 966.7 1150.5 C963.8 1156.3 961.1 1159.4 960.0 1161.1"/>
<path class="l" d="M982.0 1000.0 C981.4 1008.9 979.4 1036.4 978.6 1053.3 C977.9 1070.1 978.4 1089.0 977.3 1101.2 C976.2 1113.4 974.9 1117.9 972.0 1126.5 C969.1 1135.2 962.0 1148.7 960.0 1153.1"/>
<path class="l" d="M1053.2 1000.0 L1047.9 1053.3 L1043.9 1114.5"/>
<path class="t" d="M1055.2 1000.0 L1049.5 1055.9"/>
<path class="l" d="M988.6 1031.3 L1051.9 1002.7"/>
<path class="l" d="M1043.9 1114.5 L1050.6 1120.5 L1061.9 1117.5 L1119.1 1091.9 L1121.8 1093.2"/>
<path class="l" d="M1055.9 1109.5 L1113.1 1082.8"/>
<path class="l" d="M1091.8 1069.2 L1120.5 1088.2 L1121.8 1093.2"/>
<path class="l" d="M1051.9 1054.6 L1070.5 1051.9"/>
<path class="h" d="M1070.5 1052.2 L1087.8 1064.2 L1083.8 1071.9 L1066.5 1059.9Z"/>
<path class="h" d="M1047.9 1080.6 C1051.0 1080.5 1061.2 1080.7 1066.5 1079.9 C1071.9 1079.1 1076.5 1077.4 1079.9 1075.9 C1083.2 1074.5 1085.4 1072.0 1086.5 1071.2"/>
<path class="l" d="M1047.9 1085.2 C1051.4 1085.1 1063.2 1085.6 1069.2 1084.6 C1075.2 1083.6 1079.9 1081.2 1083.8 1079.2 C1087.8 1077.2 1091.6 1073.7 1093.2 1072.6"/>
<ellipse class="l" cx="1054.6" cy="1066.6" rx="6.1" ry="3.2"/>
<path class="t" d="M1047.9 1080.6 L1047.9 1085.2 M1049.9 1080.4 L1050.3 1085.2 M1052.0 1080.4 L1052.7 1085.2 M1054.2 1080.4 L1055.1 1085.2 M1056.3 1080.4 L1057.5 1085.2 M1058.4 1080.3 L1059.9 1085.1 M1060.5 1080.2 L1062.4 1085.0 M1062.7 1080.0 L1064.8 1084.8 M1064.8 1079.9 L1067.2 1084.6 M1066.8 1079.8 L1069.5 1084.4 M1068.3 1079.4 L1071.3 1083.9 M1069.9 1079.1 L1073.2 1083.4 M1071.3 1078.7 L1074.9 1082.8 M1072.8 1078.3 L1076.8 1082.3 M1074.4 1077.8 L1078.4 1081.6 M1075.9 1077.2 L1079.9 1081.0 M1077.3 1076.7 L1081.3 1080.3 M1078.9 1076.2 L1082.9 1079.6 M1080.4 1075.4 L1084.6 1078.6 M1081.9 1074.3 L1086.8 1077.1 M1083.5 1073.2 L1088.9 1075.5 M1084.9 1072.2 L1091.0 1074.0 M1086.5 1071.2 L1093.2 1072.6"/>
<path class="l" d="M1121.8 1093.2 L1128.1 1119.9 L1146.4 1168.1 L1153.4 1173.1 L1154.7 1199.8 L1159.8 1220.0"/>
<path class="t" d="M1119.5 1093.9 L1125.1 1119.9"/>
<path class="h" d="M1152.4 1174.5 L1154.7 1199.8"/>
<path class="l" d="M960.0 1193.8 L1063.9 1138.5 L1087.8 1126.5"/>
<path class="l" d="M1017.3 1183.8 L1070.5 1154.5"/>
<path class="l" d="M1099.8 1137.2 L1121.4 1125.2"/>
<path class="l" d="M1126.5 1157.4 L1138.7 1150.5"/>
<path class="l" d="M1039.9 1205.1 L1086.5 1180.0"/>
<path class="l" d="M1094.5 1184.0 L1146.4 1156.1"/>
<path class="l" d="M1061.5 1142.8 L1087.8 1128.1 L1092.1 1128.1 L1125.4 1162.7 L1094.5 1184.0 L1088.1 1182.7 L1065.5 1150.8Z"/>
<path class="h" d="M1088.1 1128.5 L1090.5 1146.5"/>
<path class="l" d="M1090.5 1146.5 L1123.8 1164.1"/>
<path class="l" d="M1066.5 1150.5 L1089.8 1138.5"/>
<ellipse class="l" cx="1088.5" cy="1159.8" rx="8.8" ry="4.8"/>
<path class="t" d="M1080.5 1159.1 L1096.5 1159.1 M1081.9 1161.4 L1095.2 1161.4"/>
<path class="l" d="M1034.6 1220.0 L1041.5 1210.7 L1009.5 1176.1 L1005.5 1174.7 L978.9 1189.4 L982.9 1199.8 L997.6 1220.0"/>
<path class="h" d="M1005.9 1174.7 L1006.9 1193.1"/>
<path class="l" d="M1006.9 1193.1 L1039.9 1211.7"/>
<path class="l" d="M984.0 1198.4 L1006.6 1186.4"/>
<ellipse class="l" cx="1005.3" cy="1209.1" rx="8.8" ry="4.8"/>
<ellipse class="t" cx="1006.9" cy="1209.7" rx="4.0" ry="2.4"/>
<ellipse class="t" cx="998.0" cy="1139.8" rx="13.8" ry="20.5" transform="rotate(28.0 998.0 1139.8)"/>
<ellipse class="t" cx="998.9" cy="1140.4" rx="11.2" ry="17.6" transform="rotate(28.0 998.9 1140.4)"/>
<path class="l" d="M1022.6 1025.3 L1029.2 1024.0 L1028.2 1037.3 L1022.1 1038.6Z"/>
<path class="l" d="M1019.3 1077.2 L1025.3 1076.6 L1024.7 1091.9 L1018.6 1092.6Z"/>
<path class="l" d="M988.6 1094.6 L994.0 1093.2 L993.3 1105.2 L988.0 1106.5Z"/>
<path class="l" d="M1017.3 1030.6 L1019.7 1079.9"/>
<path class="l" d="M1021.9 1038.6 L1022.6 1077.2"/>
<path class="l" d="M997.3 1047.9 L1015.9 1059.9"/>
<path class="h" d="M1009.3 1032.6 L1015.9 1037.3 L1025.3 1038.6"/>
<path class="h" d="M994.6 1040.0 L998.6 1045.3 L996.0 1051.9"/>
<path class="l" d="M998.6 1051.9 L998.6 1065.3 L1005.3 1067.9 L1015.9 1079.9"/>
<path class="h" d="M993.3 1074.6 L1003.9 1078.6 L1010.6 1086.6 L1000.0 1093.2"/>
<path class="l" d="M993.3 1040.0 L1000.0 1038.6 M992.0 1071.9 L1000.0 1067.9 L1015.9 1074.6"/>
<ellipse class="w" cx="1140.8" cy="1225.9" rx="19.7" ry="27.3" transform="rotate(28.0 1140.8 1225.9)"/>
<ellipse class="h" cx="1140.8" cy="1226.3" rx="7.7" ry="11.5" transform="rotate(28.0 1140.8 1226.3)"/>
<ellipse class="l" cx="1140.8" cy="1226.6" rx="4.0" ry="6.1" transform="rotate(28.0 1140.8 1226.6)"/>
<path class="h" d="M1152.0 1180.0 L1152.0 1200.0"/>
<path class="l" d="M1156.8 1180.0 L1157.4 1202.6"/>
<path class="l" d="M1123.8 1249.2 C1122.7 1250.6 1119.4 1257.1 1117.1 1257.5 C1114.9 1257.9 1112.3 1253.2 1110.5 1251.9 C1108.7 1250.6 1108.3 1248.8 1106.5 1249.5 C1104.7 1250.2 1102.1 1253.1 1099.8 1255.9 C1097.6 1258.7 1095.2 1263.7 1093.2 1266.6 C1091.2 1269.4 1088.7 1272.1 1087.8 1273.2"/>
<path class="h" d="M1087.8 1273.2 C1083.2 1276.1 1068.8 1285.0 1059.9 1290.5 C1051.0 1296.1 1041.9 1302.5 1034.6 1306.5 C1027.3 1310.5 1023.9 1311.8 1015.9 1314.5 C1007.9 1317.2 996.0 1319.6 986.6 1322.5 C977.3 1325.4 964.4 1330.3 960.0 1331.8"/>
<path class="t" d="M1109.2 1254.6 L1114.5 1258.6 L1119.8 1254.6"/>
<path class="l" d="M960.0 1248.6 L993.3 1245.9 L1019.9 1241.3 L1034.6 1233.3 L1131.8 1180.0"/>
<path class="l" d="M960.0 1229.3 L980.0 1229.5 L997.3 1226.6"/>
<path class="l" d="M976.0 1230.6 L977.3 1247.9"/>
<path class="l" d="M1042.6 1206.6 L1094.5 1181.3"/>
<path class="l" d="M973.3 1249.2 L1013.3 1314.5"/>
<path class="l" d="M1027.9 1238.6 L1059.9 1289.2"/>
<path class="l" d="M923.8 1060.0 C923.6 1063.3 924.2 1071.1 922.4 1080.0 C920.7 1088.9 917.3 1104.2 913.1 1113.3 C908.9 1122.4 899.8 1131.0 897.1 1134.6"/>
<path class="l" d="M897.1 1134.6 L846.5 1193.2 L778.6 1280.0"/>
<path class="l" d="M924.4 1070.7 L979.7 1098.0"/>
<path class="l" d="M897.1 1135.2 L947.7 1162.5"/>
<path class="l" d="M960.0 1150.6 C958.0 1153.2 953.3 1159.0 947.7 1166.5 C942.2 1174.1 933.3 1188.1 926.4 1195.8 C919.6 1203.6 913.6 1208.5 906.5 1213.1 C899.4 1217.8 891.6 1219.8 883.8 1223.8 C876.1 1227.8 867.2 1231.6 859.9 1237.1 C852.5 1242.7 845.4 1249.9 839.9 1257.1 C834.3 1264.2 828.8 1276.2 826.6 1280.0"/>
<path class="l" d="M960.0 1165.2 C956.6 1169.9 946.5 1184.7 939.8 1193.2 C933.1 1201.6 927.6 1208.5 919.8 1215.8 C912.0 1223.1 900.9 1232.0 893.1 1237.1 C885.4 1242.2 879.2 1242.7 873.2 1246.4 C867.2 1250.2 862.1 1254.2 857.2 1259.8 C852.3 1265.4 846.1 1276.6 843.9 1280.0"/>
<path class="l" d="M960.0 1173.2 C956.2 1178.7 944.9 1197.4 937.1 1206.5 C929.3 1215.6 920.9 1222.0 913.1 1227.8 C905.4 1233.6 894.3 1238.9 890.5 1241.1"/>
<path class="l" d="M883.8 1223.8 L891.8 1241.1"/>
<path class="l" d="M926.4 1195.8 L931.8 1206.5"/>
<path class="l" d="M891.8 1241.1 L960.0 1211.8"/>
<path class="l" d="M891.8 1241.1 L960.0 1245.4"/>
<path class="l" d="M913.1 1231.8 L939.8 1280.0"/>
<path class="l" d="M937.1 1206.5 L945.1 1226.5 M941.1 1205.8 L948.4 1225.1"/>
<path class="l" d="M835.9 1265.1 L846.5 1271.7"/>
<path class="l" d="M805.9 1250.0 L731.8 1330.5"/>
<path class="l" d="M731.8 1332.2 C734.7 1336.2 745.9 1349.5 749.2 1355.9 C752.4 1362.4 745.6 1360.2 751.3 1370.8 C756.9 1381.4 777.8 1411.4 783.1 1419.5"/>
<path class="l" d="M738.6 1330.9 L755.5 1368.6 L787.3 1417.4"/>
<path class="h" d="M783.1 1419.5 L801.7 1415.7 L818.6 1414.4"/>
<path class="l" d="M818.6 1414.4 L827.5 1425.8 L818.6 1440.7 L805.9 1453.4 L805.1 1459.7 L827.1 1496.2 L835.6 1496.8"/>
<path class="l" d="M812.3 1459.7 L829.7 1489.8"/>
<path class="l" d="M835.6 1496.8 C837.7 1493.1 841.6 1485.3 848.3 1474.6 C855.0 1463.8 866.7 1448.4 875.8 1432.2 C885.0 1416.0 893.9 1392.3 903.4 1377.1 C912.9 1361.9 921.0 1350.6 933.1 1341.1 C945.1 1331.6 955.9 1327.3 975.4 1319.9 C994.9 1312.5 1037.6 1300.5 1050.0 1296.6"/>
<path class="l" d="M838.8 1489.4 C840.9 1486.2 845.0 1480.2 851.5 1470.3 C858.0 1460.5 869.8 1444.2 878.0 1430.1 C886.1 1416.0 896.5 1393.0 900.2 1385.6"/>
<path class="l" d="M846.2 1271.2 L905.5 1368.6"/>
<path class="l" d="M818.6 1303.0 L844.1 1341.1"/>
<path class="l" d="M749.2 1351.7 L814.4 1313.6"/>
<path class="l" d="M769.9 1307.2 L799.6 1324.2"/>
<path class="l" d="M918.2 1250.0 L966.9 1315.7"/>
<path class="l" d="M979.7 1250.0 L1013.6 1305.1"/>
<path class="l" d="M856.8 1250.0 L789.0 1334.7 L783.7 1355.9"/>
<ellipse class="t" cx="867.4" cy="1266.9" rx="13.6" ry="18.2" transform="rotate(30.0 867.4 1266.9)"/>
<ellipse class="t" cx="869.1" cy="1268.2" rx="10.2" ry="14.4" transform="rotate(30.0 869.1 1268.2)"/>
<ellipse class="t" cx="916.1" cy="1347.5" rx="12.7" ry="18.2" transform="rotate(30.0 916.1 1347.5)"/>
<ellipse class="t" cx="917.8" cy="1348.7" rx="9.3" ry="14.4" transform="rotate(30.0 917.8 1348.7)"/>
<ellipse class="w" cx="799.6" cy="1365.5" rx="17.8" ry="23.7" transform="rotate(28.0 799.6 1365.5)"/>
<ellipse class="h" cx="799.6" cy="1365.5" rx="14.0" ry="19.1" transform="rotate(28.0 799.6 1365.5)"/>
<ellipse class="l" cx="799.2" cy="1366.1" rx="9.3" ry="13.1" transform="rotate(28.0 799.2 1366.1)"/>
<g><ellipse fill="#444" stroke="#222" cx="798.7" cy="1366.5" rx="5.1" ry="7.6" transform="rotate(28.0 798.7 1366.5)"/></g>
<ellipse class="w" cx="850.8" cy="1444.9" rx="17.8" ry="23.7" transform="rotate(28.0 850.8 1444.9)"/>
<ellipse class="h" cx="850.8" cy="1444.9" rx="14.0" ry="19.1" transform="rotate(28.0 850.8 1444.9)"/>
<ellipse class="l" cx="850.4" cy="1445.6" rx="9.3" ry="13.1" transform="rotate(28.0 850.4 1445.6)"/>
<g><ellipse fill="#444" stroke="#222" cx="850.0" cy="1446.0" rx="5.1" ry="7.6" transform="rotate(28.0 850.0 1446.0)"/></g>
<path class="l" d="M827.1 1360.2 L854.7 1336.9 L865.3 1339.0 L875.8 1355.9 L873.7 1377.1 L848.3 1419.5 L837.7 1425.8"/>
<path class="l" d="M833.5 1365.5 L856.8 1345.8 L867.8 1360.6 L865.7 1377.1 L846.2 1413.6"/>
<path class="l" d="M818.6 1368.6 L837.7 1385.6 L852.5 1398.3"/>
<path class="l" d="M814.4 1385.6 L837.7 1402.5"/>
<path class="l" d="M825.0 1419.5 L835.6 1402.5 L856.8 1355.9"/>
<path class="w" d="M644.6 990.0 L652.6 980.6 L667.3 972.0 L683.3 970.0 L693.9 972.0 L704.6 979.3 L715.2 990.0 L717.9 1000.6 L723.2 1007.3 L736.5 1000.6 L769.8 1016.6 L774.5 1024.6 L779.2 1037.9 L796.5 1069.9 L776.5 1075.2 L749.9 1081.8 L723.2 1089.8 L712.6 1089.8 L704.6 1081.8 L703.2 1080.5 L684.6 1091.2 L654.0 1072.5 L655.3 1064.5 L659.3 1057.9 L650.0 1052.5 L644.6 1036.6 L642.7 1009.9Z"/>
<path class="h" d="M704.6 1081.8 C705.9 1083.2 709.5 1088.5 712.6 1089.8 C715.7 1091.2 717.0 1091.2 723.2 1089.8 C729.4 1088.5 741.0 1084.3 749.9 1081.8 C758.7 1079.4 768.7 1077.2 776.5 1075.2 C784.3 1073.2 793.1 1070.7 796.5 1069.9"/>
<path class="l" d="M704.6 1077.8 C706.1 1079.2 710.8 1084.4 713.9 1085.8 C717.0 1087.3 717.2 1087.7 723.2 1086.5 C729.2 1085.3 741.0 1081.0 749.9 1078.5 C758.7 1076.1 769.8 1073.7 776.5 1071.9 C783.1 1070.0 787.6 1068.0 789.8 1067.2"/>
<path class="w" d="M655.3 1064.5 L654.0 1072.5 L684.6 1091.2 L703.2 1080.5 L704.6 1075.2 L663.3 1053.9 L658.6 1057.9Z"/>
<path class="h" d="M654.6 1068.5 L684.6 1087.2 L702.6 1077.2"/>
<path class="l" d="M658.6 1057.9 L688.6 1075.8 L703.2 1069.9"/>
<path class="l" d="M688.6 1075.8 L684.6 1087.2"/>
<path class="h" d="M663.3 1053.2 L666.0 1056.5"/>
<path class="h" d="M699.2 1075.2 L704.6 1077.8 L703.9 1083.2"/>
<ellipse class="l" cx="676.6" cy="982.0" rx="20.6" ry="11.5" transform="rotate(-3.0 676.6 982.0)"/>
<ellipse class="l" cx="677.7" cy="981.4" rx="8.0" ry="5.1" transform="rotate(-3.0 677.7 981.4)"/>
<path class="t" d="M670.0 981.4 L685.7 981.4 M677.7 976.6 L677.7 986.2"/>
<path class="l" d="M656.6 986.2 C658.0 987.5 660.6 992.2 664.6 993.9 C668.6 995.7 675.7 997.1 680.6 996.9 C685.5 996.7 691.7 993.5 693.9 992.9"/>
<path class="t" d="M658.6 990.0 C659.9 991.0 662.3 994.4 666.0 995.9 C669.6 997.5 676.2 999.1 680.6 999.0 C685.0 998.9 690.6 996.1 692.6 995.5"/>
<path class="l" d="M648.6 990.0 L680.6 1011.3"/>
<path class="l" d="M704.6 979.6 L680.6 1011.3 L678.6 1020.6 L683.3 1027.2 L692.6 1026.6 L699.2 1022.2 L723.2 1008.6"/>
<path class="l" d="M708.6 990.0 L685.9 1013.9 L687.3 1020.6 L692.6 1022.2"/>
<path class="l" d="M708.6 997.9 L693.9 1012.6"/>
<path class="h" d="M688.6 1020.6 L729.9 1005.9"/>
<path class="h" d="M749.9 1012.6 C745.4 1015.5 731.0 1024.4 723.2 1029.9 C715.5 1035.5 709.9 1039.7 703.2 1045.9 C696.6 1052.1 686.6 1063.6 683.3 1067.2"/>
<path class="l" d="M736.5 1000.9 L704.6 1027.2"/>
<path class="l" d="M768.5 1019.2 L736.5 1040.6 L732.5 1048.5 L736.5 1055.2 L745.9 1056.8 L749.9 1052.5 L776.5 1041.9"/>
<path class="l" d="M764.5 1024.6 L739.2 1041.9"/>
<path class="l" d="M771.2 1031.2 L745.9 1047.2"/>
<path class="h" d="M745.9 1052.8 L779.2 1040.8"/>
<path class="l" d="M704.6 1024.6 L736.5 1043.2"/>
<path class="l" d="M760.5 1055.2 L789.8 1069.9"/>
<ellipse class="w" cx="798.5" cy="1052.5" rx="20.0" ry="16.2"/>
<path class="h" d="M783.1 1041.9 C784.3 1041.0 786.9 1037.7 789.8 1036.6 C792.7 1035.5 796.9 1034.9 800.5 1035.2 C804.0 1035.6 808.5 1037.0 811.1 1038.6 C813.8 1040.1 815.6 1043.6 816.4 1044.6"/>
<ellipse class="l" cx="800.5" cy="1052.8" rx="8.3" ry="5.3"/>
<path class="t" d="M792.5 1052.8 L808.5 1052.8 M800.5 1047.9 L800.5 1057.9"/>
<path class="t" d="M780.5 1060.5 C782.0 1061.6 786.0 1065.8 789.8 1067.2 C793.6 1068.6 799.1 1069.2 803.1 1068.8 C807.1 1068.3 812.0 1065.2 813.8 1064.5"/>
<path class="d" d="M328.5 450.0 L421.0 502.5"/>
<path class="d" d="M316.0 568.0 L440.0 634.0"/>
<path class="d" d="M274.0 727.5 L398.0 797.0"/>
<path class="d" d="M398.0 721.0 L410.0 727.0"/>
<path class="d" d="M159.0 864.0 L311.5 948.5"/>
<path class="d" d="M209.7 943.4 L282.0 983.6"/>
<path class="d" d="M342.0 830.0 L360.0 839.0"/>
<path class="d" d="M71.0 946.6 L275.4 1045.1"/>
<path class="d" d="M117.6 1025.0 L209.7 1072.6"/>
<path class="d" d="M1076.6 131.8 L986.0 175.5"/>
<path class="d" d="M948.0 196.0 L872.0 238.0"/>
<path class="d" d="M826.0 262.0 L745.0 301.0"/>
<path class="d" d="M1030.0 174.0 L940.0 218.5"/>
<path class="d" d="M899.0 239.0 L824.0 280.0"/>
<path class="d" d="M778.0 303.0 L696.0 343.0"/>
<path class="d" d="M660.0 361.0 L596.0 392.0"/>
<path class="d" d="M708.0 319.0 L590.0 377.0"/>
<path class="d2" d="M1596.0 468.0 L1502.0 512.0"/>
<path class="d2" d="M1465.0 530.0 L1390.0 572.0"/>
<path class="d2" d="M1343.0 596.0 L1262.0 635.0"/>
<path class="d2" d="M1225.0 653.0 L1151.0 692.5"/>
<path class="d2" d="M1593.0 549.5 L1497.0 593.0"/>
<path class="d2" d="M1460.0 611.0 L1386.0 653.0"/>
<path class="d2" d="M1339.0 677.0 L1257.0 716.0"/>
<path class="d2" d="M1220.0 734.0 L1158.5 765.0"/>
<path class="l" d="M800.5 1070 V1083 M800.5 1090 V1127 M800.5 1136 V1158"/>
<path class="t" d="M677.5 1091.0 L679.0 1108.0"/>
<path class="d" d="M908.7 1429.0 L852.5 1396.2"/>
<path class="d" d="M957.4 1502.1 L872.7 1454.4"/>
<path class="t" d="M304.8 446.1 L297.3 543.4"/>
<path class="t" d="M294.8 564.6 L250.0 707.0"/>
<path class="t" d="M247.0 725.0 L144.0 841.7"/>
<path class="t" d="M137.7 861.8 L173.7 918.0"/>
<path class="t" d="M192.8 923.3 L317.8 827.9"/>
<path class="t" d="M329.4 809.9 L372.0 715.0"/>
<path class="t" d="M41.3 943.4 L69.9 991.1"/>
<path class="t" d="M1091.4 139.2 L1068.1 163.6"/>
<path class="t" d="M955.8 196.4 L931.5 217.6"/>
<path class="t" d="M964.3 209.1 L935.7 227.1"/>
<path class="t" d="M838.0 268.0 L818.0 279.0"/>
<path class="t" d="M831.0 262.0 L812.0 274.0"/>
<path class="t" d="M716.0 327.0 L692.0 341.0"/>
<path class="t" d="M722.0 331.0 L694.0 348.0"/>
<path class="t" d="M1621 479 Q1622 505 1616 530"/>
<path class="t" d="M1484.0 543.0 L1480.0 581.0"/>
<path class="t" d="M1366.0 606.0 L1363.0 643.0"/>
<path class="t" d="M1244.0 666.0 L1240.0 703.0"/>
<path class="t" d="M692.6 1137.8 L793.3 1185.2"/>
<path class="t" d="M951.0 1461.9 L983.9 1507.4"/>
<path class="lh" d="M181.0 436.8 L290.0 436.8"/>
<path class="ld" d="M39.2 805.7 L39.2 915.8"/>
<path class="lh" d="M544.5 666.0 L647.0 666.0"/>
<path class="ld" d="M680.0 372.0 L680.0 482.0"/>
<path class="ld" d="M811.4 313.0 L811.4 421.0"/>
<path class="ld" d="M923.6 250.0 L923.6 359.5"/>
<path class="ld" d="M1060.7 187.9 L1060.7 296.0"/>
<path class="lh" d="M833.5 579.0 L942.0 579.0"/>
<path class="lh" d="M923.5 731.0 L1046.0 731.0"/>
<path class="ld" d="M1249.5 515.0 L1249.5 622.5"/>
<path class="ld" d="M1365.0 456.0 L1365.0 563.0"/>
<path class="ld" d="M1483.5 392.5 L1483.5 500.0"/>
<path class="ld" d="M1611.0 350.0 L1611.0 450.0"/>
<path class="ld" d="M751.2 905.0 L751.2 1005.5"/>
<path class="lh" d="M559.0 1141.0 L665.0 1141.0"/>
<path class="lh" d="M1006.0 1521.0 L1116.0 1521.0"/>
<g transform="translate(302.9 436.4) rotate(27.8) scale(0.970)"><path class="w" d="M1 -5.3 L25 -5.3 A2.8 5.3 0 0 1 25 5.3 L1 5.3Z"/><ellipse class="l" cx="25" cy="0" rx="2.6" ry="5.1"/><path class="t" d="M20 -5.3 A2.8 5.3 0 0 0 20 5.3"/><path class="w" d="M-7 -8.5 L-1 -9.5 L-1 9.5 L-7 8.5 A3.5 8.5 0 0 1 -7 -8.5Z"/><path class="t" d="M-8 -4 L-2 -4.5 M-8 4 L-2 4.5"/><ellipse class="w" cx="0" cy="0" rx="4.2" ry="11.3"/><path class="l" d="M1.5 -5.3 A2.8 5.3 0 0 0 1.5 5.3"/></g>
<g transform="translate(292.3 556.1) rotate(27.8) scale(0.970)"><path class="w" d="M1 -5.3 L25 -5.3 A2.8 5.3 0 0 1 25 5.3 L1 5.3Z"/><ellipse class="l" cx="25" cy="0" rx="2.6" ry="5.1"/><path class="t" d="M20 -5.3 A2.8 5.3 0 0 0 20 5.3"/><path class="w" d="M-7 -8.5 L-1 -9.5 L-1 9.5 L-7 8.5 A3.5 8.5 0 0 1 -7 -8.5Z"/><path class="t" d="M-8 -4 L-2 -4.5 M-8 4 L-2 4.5"/><ellipse class="w" cx="0" cy="0" rx="4.2" ry="11.3"/><path class="l" d="M1.5 -5.3 A2.8 5.3 0 0 0 1.5 5.3"/></g>
<g transform="translate(248.7 713.5) rotate(27.8) scale(0.970)"><path class="w" d="M1 -5.3 L25 -5.3 A2.8 5.3 0 0 1 25 5.3 L1 5.3Z"/><ellipse class="l" cx="25" cy="0" rx="2.6" ry="5.1"/><path class="t" d="M20 -5.3 A2.8 5.3 0 0 0 20 5.3"/><path class="w" d="M-7 -8.5 L-1 -9.5 L-1 9.5 L-7 8.5 A3.5 8.5 0 0 1 -7 -8.5Z"/><path class="t" d="M-8 -4 L-2 -4.5 M-8 4 L-2 4.5"/><ellipse class="w" cx="0" cy="0" rx="4.2" ry="11.3"/><path class="l" d="M1.5 -5.3 A2.8 5.3 0 0 0 1.5 5.3"/></g>
<g transform="translate(373.7 703.5) rotate(27.8) scale(0.970)"><path class="w" d="M1 -5.3 L25 -5.3 A2.8 5.3 0 0 1 25 5.3 L1 5.3Z"/><ellipse class="l" cx="25" cy="0" rx="2.6" ry="5.1"/><path class="t" d="M20 -5.3 A2.8 5.3 0 0 0 20 5.3"/><path class="w" d="M-7 -8.5 L-1 -9.5 L-1 9.5 L-7 8.5 A3.5 8.5 0 0 1 -7 -8.5Z"/><path class="t" d="M-8 -4 L-2 -4.5 M-8 4 L-2 4.5"/><ellipse class="w" cx="0" cy="0" rx="4.2" ry="11.3"/><path class="l" d="M1.5 -5.3 A2.8 5.3 0 0 0 1.5 5.3"/></g>
<g transform="translate(132.9 849.5) rotate(27.8) scale(0.970)"><path class="w" d="M1 -5.3 L25 -5.3 A2.8 5.3 0 0 1 25 5.3 L1 5.3Z"/><ellipse class="l" cx="25" cy="0" rx="2.6" ry="5.1"/><path class="t" d="M20 -5.3 A2.8 5.3 0 0 0 20 5.3"/><path class="w" d="M-7 -8.5 L-1 -9.5 L-1 9.5 L-7 8.5 A3.5 8.5 0 0 1 -7 -8.5Z"/><path class="t" d="M-8 -4 L-2 -4.5 M-8 4 L-2 4.5"/><ellipse class="w" cx="0" cy="0" rx="4.2" ry="11.3"/><path class="l" d="M1.5 -5.3 A2.8 5.3 0 0 0 1.5 5.3"/></g>
<g transform="translate(183.8 927.9) rotate(27.8) scale(0.970)"><path class="w" d="M1 -5.3 L25 -5.3 A2.8 5.3 0 0 1 25 5.3 L1 5.3Z"/><ellipse class="l" cx="25" cy="0" rx="2.6" ry="5.1"/><path class="t" d="M20 -5.3 A2.8 5.3 0 0 0 20 5.3"/><path class="w" d="M-7 -8.5 L-1 -9.5 L-1 9.5 L-7 8.5 A3.5 8.5 0 0 1 -7 -8.5Z"/><path class="t" d="M-8 -4 L-2 -4.5 M-8 4 L-2 4.5"/><ellipse class="w" cx="0" cy="0" rx="4.2" ry="11.3"/><path class="l" d="M1.5 -5.3 A2.8 5.3 0 0 0 1.5 5.3"/></g>
<g transform="translate(319.4 818.8) rotate(27.8) scale(0.970)"><path class="w" d="M1 -5.3 L25 -5.3 A2.8 5.3 0 0 1 25 5.3 L1 5.3Z"/><ellipse class="l" cx="25" cy="0" rx="2.6" ry="5.1"/><path class="t" d="M20 -5.3 A2.8 5.3 0 0 0 20 5.3"/><path class="w" d="M-7 -8.5 L-1 -9.5 L-1 9.5 L-7 8.5 A3.5 8.5 0 0 1 -7 -8.5Z"/><path class="t" d="M-8 -4 L-2 -4.5 M-8 4 L-2 4.5"/><ellipse class="w" cx="0" cy="0" rx="4.2" ry="11.3"/><path class="l" d="M1.5 -5.3 A2.8 5.3 0 0 0 1.5 5.3"/></g>
<g transform="translate(33.1 928.4) rotate(26.6)"><path class="w" d="M2 -8 L38 -8 A4 8 0 0 1 38 8 L2 8Z"/><ellipse class="l" cx="38" cy="0" rx="3.8" ry="7.8"/><path class="t" d="M28 -8 A4 8 0 0 0 28 8"/><path class="w" d="M-10 -11.5 L-1 -13 L-1 13 L-10 11.5 A5 11.5 0 0 1 -10 -11.5Z"/><path class="t" d="M-12.5 -5.5 L-2 -6.5 M-12.5 5.5 L-2 6.5"/><ellipse class="w" cx="0" cy="0" rx="5.5" ry="15"/><path class="l" d="M3 -8 A4 8 0 0 0 3 8"/></g>
<g transform="translate(79.7 1005.8) rotate(26.6)"><path class="w" d="M2 -8 L38 -8 A4 8 0 0 1 38 8 L2 8Z"/><ellipse class="l" cx="38" cy="0" rx="3.8" ry="7.8"/><path class="t" d="M28 -8 A4 8 0 0 0 28 8"/><path class="w" d="M-10 -11.5 L-1 -13 L-1 13 L-10 11.5 A5 11.5 0 0 1 -10 -11.5Z"/><path class="t" d="M-12.5 -5.5 L-2 -6.5 M-12.5 5.5 L-2 6.5"/><ellipse class="w" cx="0" cy="0" rx="5.5" ry="15"/><path class="l" d="M3 -8 A4 8 0 0 0 3 8"/></g>
<g transform="translate(1107.3 129.7)"><path class="w" d="M-6 -5.3 L-25 -5.3 A3 5.3 0 0 0 -25 5.3 L-6 5.3Z"/><ellipse class="l" cx="-25" cy="0" rx="2.8" ry="5"/><path class="w" d="M-2 -14.5 A11 14.5 0 0 0 -2 14.5 A11.5 14.5 0 0 0 -2 -14.5Z"/><path class="l" d="M-6 -5.3 A3 5.3 0 0 1 -6 5.3"/><path class="t" d="M1 -13 A8.5 13.5 0 0 1 1 13"/></g>
<g transform="translate(1058.6 172.0)"><path class="w" d="M-6 -5.3 L-25 -5.3 A3 5.3 0 0 0 -25 5.3 L-6 5.3Z"/><ellipse class="l" cx="-25" cy="0" rx="2.8" ry="5"/><path class="w" d="M-2 -14.5 A11 14.5 0 0 0 -2 14.5 A11.5 14.5 0 0 0 -2 -14.5Z"/><path class="l" d="M-6 -5.3 A3 5.3 0 0 1 -6 5.3"/><path class="t" d="M1 -13 A8.5 13.5 0 0 1 1 13"/></g>
<g transform="translate(1624.5 465.5)"><path class="w" d="M-6 -5.3 L-25 -5.3 A3 5.3 0 0 0 -25 5.3 L-6 5.3Z"/><ellipse class="l" cx="-25" cy="0" rx="2.8" ry="5"/><path class="w" d="M-2 -14.5 A11 14.5 0 0 0 -2 14.5 A11.5 14.5 0 0 0 -2 -14.5Z"/><path class="l" d="M-6 -5.3 A3 5.3 0 0 1 -6 5.3"/><path class="t" d="M1 -13 A8.5 13.5 0 0 1 1 13"/></g>
<g transform="translate(1622.0 547.0)"><path class="w" d="M-6 -5.3 L-25 -5.3 A3 5.3 0 0 0 -25 5.3 L-6 5.3Z"/><ellipse class="l" cx="-25" cy="0" rx="2.8" ry="5"/><path class="w" d="M-2 -14.5 A11 14.5 0 0 0 -2 14.5 A11.5 14.5 0 0 0 -2 -14.5Z"/><path class="l" d="M-6 -5.3 A3 5.3 0 0 1 -6 5.3"/><path class="t" d="M1 -13 A8.5 13.5 0 0 1 1 13"/></g>
<ellipse class="w" cx="966.4" cy="185.8" rx="16.5" ry="21.5"/><ellipse class="l" cx="966.9" cy="185.8" rx="4.8" ry="6.2"/>
<ellipse class="w" cx="917.7" cy="229.2" rx="16.5" ry="21.5"/><ellipse class="l" cx="918.2" cy="229.2" rx="4.8" ry="6.2"/>
<ellipse class="w" style="stroke-width:1.6" cx="733.5" cy="308.5" rx="15.0" ry="18.0"/><ellipse class="w" cx="727.5" cy="310.0" rx="16.5" ry="21.5"/><ellipse class="l" cx="728.0" cy="310.0" rx="4.8" ry="6.2"/>
<ellipse class="w" style="stroke-width:1.6" cx="683.5" cy="350.0" rx="15.0" ry="18.0"/><ellipse class="w" cx="677.5" cy="351.5" rx="16.5" ry="21.5"/><ellipse class="l" cx="678.0" cy="351.5" rx="4.8" ry="6.2"/>
<ellipse class="w" cx="1483.5" cy="521.0" rx="16.5" ry="21.5"/><ellipse class="l" cx="1484.0" cy="521.0" rx="4.8" ry="6.2"/>
<ellipse class="w" cx="1478.5" cy="602.5" rx="16.5" ry="21.5"/><ellipse class="l" cx="1479.0" cy="602.5" rx="4.8" ry="6.2"/>
<ellipse class="w" style="stroke-width:1.6" cx="1249.5" cy="642.5" rx="15.0" ry="18.0"/><ellipse class="w" cx="1243.5" cy="644.0" rx="16.5" ry="21.5"/><ellipse class="l" cx="1244.0" cy="644.0" rx="4.8" ry="6.2"/>
<ellipse class="w" style="stroke-width:1.6" cx="1244.5" cy="723.5" rx="15.0" ry="18.0"/><ellipse class="w" cx="1238.5" cy="725.0" rx="16.5" ry="21.5"/><ellipse class="l" cx="1239.0" cy="725.0" rx="4.8" ry="6.2"/>
<g transform="translate(849.9 250.0)"><ellipse cx="2.5" cy="0" rx="20.5" ry="20.5" fill="#777" stroke="#222" stroke-width="3"/><circle cx="-1" cy="0" r="19.5" fill="#fff" stroke="#222" stroke-width="3.2"/><path d="M3.0 0.4 L17.9 1.9" stroke="#2a2a2a" stroke-width="2.3" fill="none"/><path d="M2.7 1.6 L16.4 7.6" stroke="#2a2a2a" stroke-width="2.3" fill="none"/><path d="M2.0 2.7 L13.2 12.6" stroke="#2a2a2a" stroke-width="2.3" fill="none"/><path d="M1.0 3.5 L8.6 16.4" stroke="#2a2a2a" stroke-width="2.3" fill="none"/><path d="M-0.1 3.9 L3.0 18.6" stroke="#2a2a2a" stroke-width="2.3" fill="none"/><path d="M-1.4 4.0 L-2.9 18.9" stroke="#2a2a2a" stroke-width="2.3" fill="none"/><path d="M-2.6 3.7 L-8.6 17.4" stroke="#2a2a2a" stroke-width="2.3" fill="none"/><path d="M-3.7 3.0 L-13.6 14.2" stroke="#2a2a2a" stroke-width="2.3" fill="none"/><path d="M-4.5 2.0 L-17.4 9.6" stroke="#2a2a2a" stroke-width="2.3" fill="none"/><path d="M-4.9 0.9 L-19.6 4.0" stroke="#2a2a2a" stroke-width="2.3" fill="none"/><path d="M-5.0 -0.4 L-19.9 -1.9" stroke="#2a2a2a" stroke-width="2.3" fill="none"/><path d="M-4.7 -1.6 L-18.4 -7.6" stroke="#2a2a2a" stroke-width="2.3" fill="none"/><path d="M-4.0 -2.7 L-15.2 -12.6" stroke="#2a2a2a" stroke-width="2.3" fill="none"/><path d="M-3.0 -3.5 L-10.6 -16.4" stroke="#2a2a2a" stroke-width="2.3" fill="none"/><path d="M-1.9 -3.9 L-5.0 -18.6" stroke="#2a2a2a" stroke-width="2.3" fill="none"/><path d="M-0.6 -4.0 L0.9 -18.9" stroke="#2a2a2a" stroke-width="2.3" fill="none"/><path d="M0.6 -3.7 L6.6 -17.4" stroke="#2a2a2a" stroke-width="2.3" fill="none"/><path d="M1.7 -3.0 L11.6 -14.2" stroke="#2a2a2a" stroke-width="2.3" fill="none"/><path d="M2.5 -2.0 L15.4 -9.6" stroke="#2a2a2a" stroke-width="2.3" fill="none"/><path d="M2.9 -0.9 L17.6 -4.0" stroke="#2a2a2a" stroke-width="2.3" fill="none"/><circle cx="-1" cy="0" r="13" fill="none" stroke="#2a2a2a" stroke-width="2.2"/><circle cx="-1" cy="0" r="7.5" fill="none" stroke="#2a2a2a" stroke-width="2.4"/></g>
<g transform="translate(800.7 292.0)"><ellipse cx="2.5" cy="0" rx="20.5" ry="20.5" fill="#777" stroke="#222" stroke-width="3"/><circle cx="-1" cy="0" r="19.5" fill="#fff" stroke="#222" stroke-width="3.2"/><path d="M3.0 0.4 L17.9 1.9" stroke="#2a2a2a" stroke-width="2.3" fill="none"/><path d="M2.7 1.6 L16.4 7.6" stroke="#2a2a2a" stroke-width="2.3" fill="none"/><path d="M2.0 2.7 L13.2 12.6" stroke="#2a2a2a" stroke-width="2.3" fill="none"/><path d="M1.0 3.5 L8.6 16.4" stroke="#2a2a2a" stroke-width="2.3" fill="none"/><path d="M-0.1 3.9 L3.0 18.6" stroke="#2a2a2a" stroke-width="2.3" fill="none"/><path d="M-1.4 4.0 L-2.9 18.9" stroke="#2a2a2a" stroke-width="2.3" fill="none"/><path d="M-2.6 3.7 L-8.6 17.4" stroke="#2a2a2a" stroke-width="2.3" fill="none"/><path d="M-3.7 3.0 L-13.6 14.2" stroke="#2a2a2a" stroke-width="2.3" fill="none"/><path d="M-4.5 2.0 L-17.4 9.6" stroke="#2a2a2a" stroke-width="2.3" fill="none"/><path d="M-4.9 0.9 L-19.6 4.0" stroke="#2a2a2a" stroke-width="2.3" fill="none"/><path d="M-5.0 -0.4 L-19.9 -1.9" stroke="#2a2a2a" stroke-width="2.3" fill="none"/><path d="M-4.7 -1.6 L-18.4 -7.6" stroke="#2a2a2a" stroke-width="2.3" fill="none"/><path d="M-4.0 -2.7 L-15.2 -12.6" stroke="#2a2a2a" stroke-width="2.3" fill="none"/><path d="M-3.0 -3.5 L-10.6 -16.4" stroke="#2a2a2a" stroke-width="2.3" fill="none"/><path d="M-1.9 -3.9 L-5.0 -18.6" stroke="#2a2a2a" stroke-width="2.3" fill="none"/><path d="M-0.6 -4.0 L0.9 -18.9" stroke="#2a2a2a" stroke-width="2.3" fill="none"/><path d="M0.6 -3.7 L6.6 -17.4" stroke="#2a2a2a" stroke-width="2.3" fill="none"/><path d="M1.7 -3.0 L11.6 -14.2" stroke="#2a2a2a" stroke-width="2.3" fill="none"/><path d="M2.5 -2.0 L15.4 -9.6" stroke="#2a2a2a" stroke-width="2.3" fill="none"/><path d="M2.9 -0.9 L17.6 -4.0" stroke="#2a2a2a" stroke-width="2.3" fill="none"/><circle cx="-1" cy="0" r="13" fill="none" stroke="#2a2a2a" stroke-width="2.2"/><circle cx="-1" cy="0" r="7.5" fill="none" stroke="#2a2a2a" stroke-width="2.4"/></g>
<g transform="translate(1366.0 584.0)"><ellipse cx="2.5" cy="0" rx="20.5" ry="20.5" fill="#777" stroke="#222" stroke-width="3"/><circle cx="-1" cy="0" r="19.5" fill="#fff" stroke="#222" stroke-width="3.2"/><path d="M3.0 0.4 L17.9 1.9" stroke="#2a2a2a" stroke-width="2.3" fill="none"/><path d="M2.7 1.6 L16.4 7.6" stroke="#2a2a2a" stroke-width="2.3" fill="none"/><path d="M2.0 2.7 L13.2 12.6" stroke="#2a2a2a" stroke-width="2.3" fill="none"/><path d="M1.0 3.5 L8.6 16.4" stroke="#2a2a2a" stroke-width="2.3" fill="none"/><path d="M-0.1 3.9 L3.0 18.6" stroke="#2a2a2a" stroke-width="2.3" fill="none"/><path d="M-1.4 4.0 L-2.9 18.9" stroke="#2a2a2a" stroke-width="2.3" fill="none"/><path d="M-2.6 3.7 L-8.6 17.4" stroke="#2a2a2a" stroke-width="2.3" fill="none"/><path d="M-3.7 3.0 L-13.6 14.2" stroke="#2a2a2a" stroke-width="2.3" fill="none"/><path d="M-4.5 2.0 L-17.4 9.6" stroke="#2a2a2a" stroke-width="2.3" fill="none"/><path d="M-4.9 0.9 L-19.6 4.0" stroke="#2a2a2a" stroke-width="2.3" fill="none"/><path d="M-5.0 -0.4 L-19.9 -1.9" stroke="#2a2a2a" stroke-width="2.3" fill="none"/><path d="M-4.7 -1.6 L-18.4 -7.6" stroke="#2a2a2a" stroke-width="2.3" fill="none"/><path d="M-4.0 -2.7 L-15.2 -12.6" stroke="#2a2a2a" stroke-width="2.3" fill="none"/><path d="M-3.0 -3.5 L-10.6 -16.4" stroke="#2a2a2a" stroke-width="2.3" fill="none"/><path d="M-1.9 -3.9 L-5.0 -18.6" stroke="#2a2a2a" stroke-width="2.3" fill="none"/><path d="M-0.6 -4.0 L0.9 -18.9" stroke="#2a2a2a" stroke-width="2.3" fill="none"/><path d="M0.6 -3.7 L6.6 -17.4" stroke="#2a2a2a" stroke-width="2.3" fill="none"/><path d="M1.7 -3.0 L11.6 -14.2" stroke="#2a2a2a" stroke-width="2.3" fill="none"/><path d="M2.5 -2.0 L15.4 -9.6" stroke="#2a2a2a" stroke-width="2.3" fill="none"/><path d="M2.9 -0.9 L17.6 -4.0" stroke="#2a2a2a" stroke-width="2.3" fill="none"/><circle cx="-1" cy="0" r="13" fill="none" stroke="#2a2a2a" stroke-width="2.2"/><circle cx="-1" cy="0" r="7.5" fill="none" stroke="#2a2a2a" stroke-width="2.4"/></g>
<g transform="translate(1362.0 665.0)"><ellipse cx="2.5" cy="0" rx="20.5" ry="20.5" fill="#777" stroke="#222" stroke-width="3"/><circle cx="-1" cy="0" r="19.5" fill="#fff" stroke="#222" stroke-width="3.2"/><path d="M3.0 0.4 L17.9 1.9" stroke="#2a2a2a" stroke-width="2.3" fill="none"/><path d="M2.7 1.6 L16.4 7.6" stroke="#2a2a2a" stroke-width="2.3" fill="none"/><path d="M2.0 2.7 L13.2 12.6" stroke="#2a2a2a" stroke-width="2.3" fill="none"/><path d="M1.0 3.5 L8.6 16.4" stroke="#2a2a2a" stroke-width="2.3" fill="none"/><path d="M-0.1 3.9 L3.0 18.6" stroke="#2a2a2a" stroke-width="2.3" fill="none"/><path d="M-1.4 4.0 L-2.9 18.9" stroke="#2a2a2a" stroke-width="2.3" fill="none"/><path d="M-2.6 3.7 L-8.6 17.4" stroke="#2a2a2a" stroke-width="2.3" fill="none"/><path d="M-3.7 3.0 L-13.6 14.2" stroke="#2a2a2a" stroke-width="2.3" fill="none"/><path d="M-4.5 2.0 L-17.4 9.6" stroke="#2a2a2a" stroke-width="2.3" fill="none"/><path d="M-4.9 0.9 L-19.6 4.0" stroke="#2a2a2a" stroke-width="2.3" fill="none"/><path d="M-5.0 -0.4 L-19.9 -1.9" stroke="#2a2a2a" stroke-width="2.3" fill="none"/><path d="M-4.7 -1.6 L-18.4 -7.6" stroke="#2a2a2a" stroke-width="2.3" fill="none"/><path d="M-4.0 -2.7 L-15.2 -12.6" stroke="#2a2a2a" stroke-width="2.3" fill="none"/><path d="M-3.0 -3.5 L-10.6 -16.4" stroke="#2a2a2a" stroke-width="2.3" fill="none"/><path d="M-1.9 -3.9 L-5.0 -18.6" stroke="#2a2a2a" stroke-width="2.3" fill="none"/><path d="M-0.6 -4.0 L0.9 -18.9" stroke="#2a2a2a" stroke-width="2.3" fill="none"/><path d="M0.6 -3.7 L6.6 -17.4" stroke="#2a2a2a" stroke-width="2.3" fill="none"/><path d="M1.7 -3.0 L11.6 -14.2" stroke="#2a2a2a" stroke-width="2.3" fill="none"/><path d="M2.5 -2.0 L15.4 -9.6" stroke="#2a2a2a" stroke-width="2.3" fill="none"/><path d="M2.9 -0.9 L17.6 -4.0" stroke="#2a2a2a" stroke-width="2.3" fill="none"/><circle cx="-1" cy="0" r="13" fill="none" stroke="#2a2a2a" stroke-width="2.2"/><circle cx="-1" cy="0" r="7.5" fill="none" stroke="#2a2a2a" stroke-width="2.4"/></g>
<g transform="translate(680.0 1145.8)"><ellipse class="w" cx="0" cy="0" rx="14.4" ry="8.6"/><ellipse class="t" cx="0" cy="-1.5" rx="9" ry="4.6"/><path d="M-6.5 -24 L6.5 -24 L7.5 -3 L-7.5 -3Z" fill="#2a2a2a" stroke="#1a1a1a" stroke-width="1.5"/><path d="M-1.5 -22 L1.5 -22 L1.5 -5 L-1.5 -5Z" fill="#bbb"/><path d="M-6 -17 L6 -16 M-6 -11 L6 -10" stroke="#999" stroke-width="1.2" fill="none"/><path class="w" d="M0 -37 L-5 -26 L5 -26Z"/><path d="M-5 -26 L5 -26 L6 -23.5 L-6 -23.5Z" fill="#fff" stroke="#222" stroke-width="1.5"/></g>
<g transform="translate(804.0 1193.0)"><ellipse class="w" cx="0" cy="0" rx="14.4" ry="8.6"/><ellipse class="t" cx="0" cy="-1.5" rx="9" ry="4.6"/><path d="M-6.5 -24 L6.5 -24 L7.5 -3 L-7.5 -3Z" fill="#2a2a2a" stroke="#1a1a1a" stroke-width="1.5"/><path d="M-1.5 -22 L1.5 -22 L1.5 -5 L-1.5 -5Z" fill="#bbb"/><path d="M-6 -17 L6 -16 M-6 -11 L6 -10" stroke="#999" stroke-width="1.2" fill="none"/><path class="w" d="M0 -37 L-5 -26 L5 -26Z"/><path d="M-5 -26 L5 -26 L6 -23.5 L-6 -23.5Z" fill="#fff" stroke="#222" stroke-width="1.5"/></g>
<g transform="translate(822.8 578.5) rotate(180.0) scale(0.920)"><path class="w" d="M1 -5.3 L25 -5.3 A2.8 5.3 0 0 1 25 5.3 L1 5.3Z"/><ellipse class="l" cx="25" cy="0" rx="2.6" ry="5.1"/><path class="t" d="M20 -5.3 A2.8 5.3 0 0 0 20 5.3"/><path class="w" d="M-7 -8.5 L-1 -9.5 L-1 9.5 L-7 8.5 A3.5 8.5 0 0 1 -7 -8.5Z"/><path class="t" d="M-8 -4 L-2 -4.5 M-8 4 L-2 4.5"/><ellipse class="w" cx="0" cy="0" rx="4.2" ry="11.3"/><path class="l" d="M1.5 -5.3 A2.8 5.3 0 0 0 1.5 5.3"/></g>
<g transform="translate(945.8 1448.1) rotate(209.6)"><path class="w" d="M4 -8.5 L36 -8.5 A4 8.5 0 0 1 36 8.5 L4 8.5Z"/><ellipse class="l" cx="36" cy="0" rx="3.8" ry="8.3"/><ellipse cx="4" cy="0" rx="8" ry="14.5" fill="#fff" stroke="#222" stroke-width="2.2"/><ellipse cx="0" cy="0" rx="9" ry="15.5" fill="#999" stroke="#1a1a1a" stroke-width="2.6"/><path d="M1.0 5.9 L-3.0 11.9 L-7.0 5.9 L-7.0 -5.9 L-3.0 -11.9 L1.0 -5.9Z" fill="#666" stroke="#1a1a1a" stroke-width="2.6" stroke-linejoin="round"/><ellipse cx="-4" cy="0" rx="3.6" ry="7" fill="#ddd" stroke="#222" stroke-width="1.8"/></g>
<g transform="translate(993.4 1523.3) rotate(209.6)"><path class="w" d="M4 -8.5 L36 -8.5 A4 8.5 0 0 1 36 8.5 L4 8.5Z"/><ellipse class="l" cx="36" cy="0" rx="3.8" ry="8.3"/><ellipse cx="4" cy="0" rx="8" ry="14.5" fill="#fff" stroke="#222" stroke-width="2.2"/><ellipse cx="0" cy="0" rx="9" ry="15.5" fill="#999" stroke="#1a1a1a" stroke-width="2.6"/><path d="M1.0 5.9 L-3.0 11.9 L-7.0 5.9 L-7.0 -5.9 L-3.0 -11.9 L1.0 -5.9Z" fill="#666" stroke="#1a1a1a" stroke-width="2.6" stroke-linejoin="round"/><ellipse cx="-4" cy="0" rx="3.6" ry="7" fill="#ddd" stroke="#222" stroke-width="1.8"/></g>
<path class="t" d="M961.4 188.4 L972.4 182.8"/>
<path class="t" d="M912.7 231.8 L923.7 226.2"/>
<path class="t" d="M722.5 312.6 L733.5 307.0"/>
<path class="t" d="M672.5 354.1 L683.5 348.5"/>
<path class="t" d="M1478.5 523.6 L1489.5 518.0"/>
<path class="t" d="M1473.5 605.1 L1484.5 599.5"/>
<path class="t" d="M1238.5 646.6 L1249.5 641.0"/>
<path class="t" d="M1233.5 727.6 L1244.5 722.0"/>
<ellipse cx="751.5" cy="861" rx="45.6" ry="44" fill="#d4bc08"/>
<text transform="translate(1060.0 349.8) scale(0.92 1)" x="0" y="0" font-size="60" text-anchor="middle">1</text>
<text transform="translate(922.7 413.3) scale(0.92 1)" x="0" y="0" font-size="60" text-anchor="middle">2</text>
<text transform="translate(809.0 476.8) scale(0.92 1)" x="0" y="0" font-size="60" text-anchor="middle">3</text>
<text transform="translate(678.5 532.8) scale(0.92 1)" x="0" y="0" font-size="60" text-anchor="middle">4</text>
<text transform="translate(152.5 455.8) scale(0.92 1)" x="0" y="0" font-size="60" text-anchor="middle">5</text>
<text transform="translate(679.5 685.8) scale(0.92 1)" x="0" y="0" font-size="60" text-anchor="middle">9</text>
<text transform="translate(40.0 793.8) scale(0.92 1)" x="0" y="0" font-size="60" text-anchor="middle">6</text>
<text class="y" transform="translate(751.5 889.8) scale(0.92 1)" x="0" y="0" font-size="60" text-anchor="middle">7</text>
<text transform="translate(531.0 1160.8) scale(0.92 1)" x="0" y="0" font-size="60" text-anchor="middle">8</text>
<text transform="translate(977.0 598.3) scale(0.92 1)" x="0" y="0" font-size="60" text-anchor="middle">5</text>
<text transform="translate(882.0 750.8) scale(0.92 1)" x="0" y="0" font-size="60" text-anchor="middle">10</text>
<text transform="translate(1249.5 503.3) scale(0.92 1)" x="0" y="0" font-size="60" text-anchor="middle">4</text>
<text transform="translate(1366.0 444.8) scale(0.92 1)" x="0" y="0" font-size="60" text-anchor="middle">3</text>
<text transform="translate(1483.5 380.8) scale(0.92 1)" x="0" y="0" font-size="60" text-anchor="middle">2</text>
<text transform="translate(1612.0 341.8) scale(0.92 1)" x="0" y="0" font-size="60" text-anchor="middle">1</text>
<text transform="translate(1143.5 1538.8) scale(0.92 1)" x="0" y="0" font-size="60" text-anchor="middle">6</text>
</g>
</svg>
</body></html>
